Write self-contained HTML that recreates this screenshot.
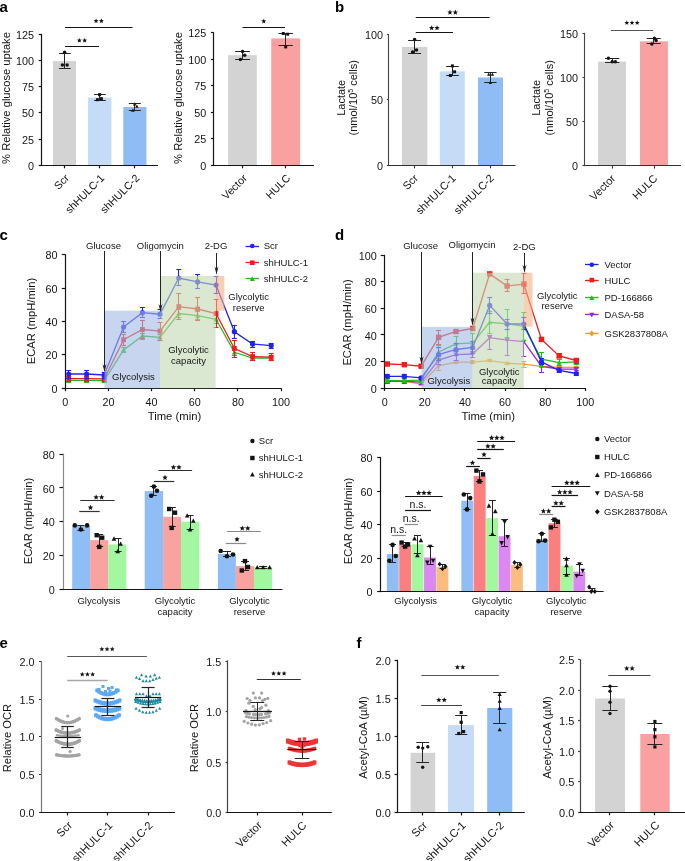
<!DOCTYPE html>
<html><head><meta charset="utf-8"><style>
html,body{margin:0;padding:0;background:#fff;}
svg{display:block;will-change:transform;}
text{font-family:"Liberation Sans", sans-serif;}
</style></head><body>
<svg width="685" height="861" viewBox="0 0 685 861">
<rect width="685" height="861" fill="#fff"/>
<text x="-0.5" y="11.5" font-size="15" text-anchor="start" font-weight="bold" fill="#000">a</text>
<text x="335" y="11.5" font-size="15" text-anchor="start" font-weight="bold" fill="#000">b</text>
<text x="-0.5" y="239.7" font-size="15" text-anchor="start" font-weight="bold" fill="#000">c</text>
<text x="335" y="239.7" font-size="15" text-anchor="start" font-weight="bold" fill="#000">d</text>
<text x="-0.5" y="647.6" font-size="15" text-anchor="start" font-weight="bold" fill="#000">e</text>
<text x="356.5" y="647.6" font-size="15" text-anchor="start" font-weight="bold" fill="#000">f</text>
<rect x="53" y="61.1" width="23" height="104.2" fill="#d3d3d3"/>
<rect x="88" y="97.6" width="23.4" height="67.7" fill="#c6dcf6"/>
<rect x="123.3" y="107" width="23.1" height="58.3" fill="#8fbcf5"/>
<line x1="41.5" y1="33.8" x2="41.5" y2="165.9" stroke="#141414" stroke-width="1.2"/>
<line x1="38.7" y1="165.5" x2="41.2" y2="165.5" stroke="#141414" stroke-width="1.2"/>
<text x="34.1" y="169.84" font-size="10.8" text-anchor="end" fill="#141414">0</text>
<line x1="38.7" y1="139.5" x2="41.2" y2="139.5" stroke="#141414" stroke-width="1.2"/>
<text x="34.1" y="143.66" font-size="10.8" text-anchor="end" fill="#141414">25</text>
<line x1="38.7" y1="112.5" x2="41.2" y2="112.5" stroke="#141414" stroke-width="1.2"/>
<text x="34.1" y="117.48" font-size="10.8" text-anchor="end" fill="#141414">50</text>
<line x1="38.7" y1="86.5" x2="41.2" y2="86.5" stroke="#141414" stroke-width="1.2"/>
<text x="34.1" y="91.3" font-size="10.8" text-anchor="end" fill="#141414">75</text>
<line x1="38.7" y1="60.5" x2="41.2" y2="60.5" stroke="#141414" stroke-width="1.2"/>
<text x="34.1" y="65.12" font-size="10.8" text-anchor="end" fill="#141414">100</text>
<line x1="38.7" y1="34.5" x2="41.2" y2="34.5" stroke="#141414" stroke-width="1.2"/>
<text x="34.1" y="38.94" font-size="10.8" text-anchor="end" fill="#141414">125</text>
<line x1="40.6" y1="165.5" x2="158" y2="165.5" stroke="#141414" stroke-width="1.2"/>
<line x1="64.5" y1="165.3" x2="64.5" y2="168.3" stroke="#141414" stroke-width="1.2"/>
<line x1="99.5" y1="165.3" x2="99.5" y2="168.3" stroke="#141414" stroke-width="1.2"/>
<line x1="134.5" y1="165.3" x2="134.5" y2="168.3" stroke="#141414" stroke-width="1.2"/>
<line x1="64.5" y1="53.5" x2="64.5" y2="68.4" stroke="#262626" stroke-width="1"/>
<line x1="58.95" y1="53.5" x2="70.65" y2="53.5" stroke="#262626" stroke-width="1"/>
<line x1="58.95" y1="68.5" x2="70.65" y2="68.5" stroke="#262626" stroke-width="1"/>
<circle cx="64.6" cy="52.3" r="1.75" fill="#141414"/>
<circle cx="62.4" cy="65" r="1.75" fill="#141414"/>
<circle cx="67.1" cy="65" r="1.75" fill="#141414"/>
<line x1="99.5" y1="94.6" x2="99.5" y2="100.5" stroke="#262626" stroke-width="1"/>
<line x1="94.05" y1="94.5" x2="105.75" y2="94.5" stroke="#262626" stroke-width="1"/>
<line x1="94.05" y1="100.5" x2="105.75" y2="100.5" stroke="#262626" stroke-width="1"/>
<rect x="98.1" y="93.1" width="3" height="3" fill="#141414"/>
<rect x="95.9" y="98.2" width="3" height="3" fill="#141414"/>
<rect x="99.9" y="97.2" width="3" height="3" fill="#141414"/>
<line x1="134.5" y1="103.4" x2="134.5" y2="110.3" stroke="#262626" stroke-width="1"/>
<line x1="128.8" y1="103.5" x2="140.8" y2="103.5" stroke="#262626" stroke-width="1"/>
<line x1="128.8" y1="110.5" x2="140.8" y2="110.5" stroke="#262626" stroke-width="1"/>
<path d="M134.7 102.26L136.46 105.57L132.94 105.57Z" fill="#141414"/>
<path d="M136.9 104.46L138.66 107.77L135.14 107.77Z" fill="#141414"/>
<path d="M132.9 108.56L134.66 111.87L131.14 111.87Z" fill="#141414"/>
<line x1="65" y1="46.5" x2="99" y2="46.5" stroke="#141414" stroke-width="1.2"/>
<polygon points="79.35,37.9 80.02,39.57 81.82,39.7 80.44,40.85 80.88,42.6 79.35,41.64 77.82,42.6 78.26,40.85 76.88,39.7 78.68,39.57" fill="#141414"/>
<polygon points="84.65,37.9 85.32,39.57 87.12,39.7 85.74,40.85 86.18,42.6 84.65,41.64 83.12,42.6 83.56,40.85 82.18,39.7 83.98,39.57" fill="#141414"/>
<line x1="65" y1="27.5" x2="132.5" y2="27.5" stroke="#141414" stroke-width="1.2"/>
<polygon points="96.1,18.4 96.77,20.07 98.57,20.2 97.19,21.35 97.63,23.1 96.1,22.14 94.57,23.1 95.01,21.35 93.63,20.2 95.43,20.07" fill="#141414"/>
<polygon points="101.4,18.4 102.07,20.07 103.87,20.2 102.49,21.35 102.93,23.1 101.4,22.14 99.87,23.1 100.31,21.35 98.93,20.2 100.73,20.07" fill="#141414"/>
<text x="69.9" y="178.8" font-size="10.7" text-anchor="end" fill="#141414" transform="rotate(-45 69.9 178.8)">Scr</text>
<text x="105" y="178.8" font-size="10.7" text-anchor="end" fill="#141414" transform="rotate(-45 105 178.8)">shHULC-1</text>
<text x="140.1" y="178.8" font-size="10.7" text-anchor="end" fill="#141414" transform="rotate(-45 140.1 178.8)">shHULC-2</text>
<text x="10" y="98" font-size="11.2" text-anchor="middle" fill="#141414" transform="rotate(-90 10 98)">% Relative glucose uptake</text>
<rect x="228.1" y="55.2" width="28.7" height="110.1" fill="#d3d3d3"/>
<rect x="271.2" y="38.4" width="28.9" height="126.9" fill="#f9a0a0"/>
<line x1="213.5" y1="32.2" x2="213.5" y2="165.9" stroke="#141414" stroke-width="1.2"/>
<line x1="210.9" y1="165.5" x2="213.4" y2="165.5" stroke="#141414" stroke-width="1.2"/>
<text x="206.3" y="169.84" font-size="10.8" text-anchor="end" fill="#141414">0</text>
<line x1="210.9" y1="138.5" x2="213.4" y2="138.5" stroke="#141414" stroke-width="1.2"/>
<text x="206.3" y="143.34" font-size="10.8" text-anchor="end" fill="#141414">25</text>
<line x1="210.9" y1="112.5" x2="213.4" y2="112.5" stroke="#141414" stroke-width="1.2"/>
<text x="206.3" y="116.84" font-size="10.8" text-anchor="end" fill="#141414">50</text>
<line x1="210.9" y1="85.5" x2="213.4" y2="85.5" stroke="#141414" stroke-width="1.2"/>
<text x="206.3" y="90.34" font-size="10.8" text-anchor="end" fill="#141414">75</text>
<line x1="210.9" y1="59.5" x2="213.4" y2="59.5" stroke="#141414" stroke-width="1.2"/>
<text x="206.3" y="63.84" font-size="10.8" text-anchor="end" fill="#141414">100</text>
<line x1="210.9" y1="32.5" x2="213.4" y2="32.5" stroke="#141414" stroke-width="1.2"/>
<text x="206.3" y="37.34" font-size="10.8" text-anchor="end" fill="#141414">125</text>
<line x1="212.8" y1="165.5" x2="314" y2="165.5" stroke="#141414" stroke-width="1.2"/>
<line x1="242.5" y1="165.3" x2="242.5" y2="168.3" stroke="#141414" stroke-width="1.2"/>
<line x1="285.5" y1="165.3" x2="285.5" y2="168.3" stroke="#141414" stroke-width="1.2"/>
<line x1="242.5" y1="51.5" x2="242.5" y2="59.4" stroke="#262626" stroke-width="1"/>
<line x1="235.15" y1="51.5" x2="250.05" y2="51.5" stroke="#262626" stroke-width="1"/>
<line x1="235.15" y1="59.5" x2="250.05" y2="59.5" stroke="#262626" stroke-width="1"/>
<circle cx="242.6" cy="51.5" r="1.75" fill="#141414"/>
<circle cx="244.7" cy="55.2" r="1.75" fill="#141414"/>
<circle cx="240.4" cy="59.4" r="1.75" fill="#141414"/>
<line x1="285.5" y1="33.4" x2="285.5" y2="45.2" stroke="#262626" stroke-width="1"/>
<line x1="278.5" y1="33.5" x2="292.9" y2="33.5" stroke="#262626" stroke-width="1"/>
<line x1="278.5" y1="45.5" x2="292.9" y2="45.5" stroke="#262626" stroke-width="1"/>
<rect x="281.8" y="32" width="3" height="3" fill="#141414"/>
<rect x="286.2" y="32.7" width="3" height="3" fill="#141414"/>
<rect x="284.2" y="45.4" width="3" height="3" fill="#141414"/>
<line x1="242.5" y1="27.5" x2="285" y2="27.5" stroke="#141414" stroke-width="1.2"/>
<polygon points="263.75,18.7 264.42,20.37 266.22,20.5 264.84,21.65 265.28,23.4 263.75,22.44 262.22,23.4 262.66,21.65 261.28,20.5 263.08,20.37" fill="#141414"/>
<text x="247.7" y="178.8" font-size="10.7" text-anchor="end" fill="#141414" transform="rotate(-45 247.7 178.8)">Vector</text>
<text x="290.9" y="178.8" font-size="10.7" text-anchor="end" fill="#141414" transform="rotate(-45 290.9 178.8)">HULC</text>
<text x="182" y="98" font-size="11.2" text-anchor="middle" fill="#141414" transform="rotate(-90 182 98)">% Relative glucose uptake</text>
<rect x="402" y="46.9" width="25.3" height="118.4" fill="#d3d3d3"/>
<rect x="439.8" y="71.3" width="25" height="94" fill="#c6dcf6"/>
<rect x="478" y="77.5" width="25" height="87.8" fill="#8fbcf5"/>
<line x1="388.5" y1="34.05" x2="388.5" y2="165.85" stroke="#444" stroke-width="1.1"/>
<line x1="386.9" y1="165.5" x2="388.9" y2="165.5" stroke="#444" stroke-width="1.1"/>
<text x="382.9" y="169.84" font-size="10.8" text-anchor="end" fill="#141414">0</text>
<line x1="386.9" y1="99.5" x2="388.9" y2="99.5" stroke="#444" stroke-width="1.1"/>
<text x="382.9" y="104.49" font-size="10.8" text-anchor="end" fill="#141414">50</text>
<line x1="386.9" y1="34.5" x2="388.9" y2="34.5" stroke="#444" stroke-width="1.1"/>
<text x="382.9" y="39.14" font-size="10.8" text-anchor="end" fill="#141414">100</text>
<line x1="388.35" y1="165.5" x2="515.5" y2="165.5" stroke="#333" stroke-width="1.1"/>
<line x1="414.5" y1="165.3" x2="414.5" y2="168.3" stroke="#333" stroke-width="1.1"/>
<line x1="452.5" y1="165.3" x2="452.5" y2="168.3" stroke="#333" stroke-width="1.1"/>
<line x1="490.5" y1="165.3" x2="490.5" y2="168.3" stroke="#333" stroke-width="1.1"/>
<line x1="414.5" y1="40.6" x2="414.5" y2="53.6" stroke="#262626" stroke-width="1"/>
<line x1="408.15" y1="40.5" x2="421.05" y2="40.5" stroke="#262626" stroke-width="1"/>
<line x1="408.15" y1="53.5" x2="421.05" y2="53.5" stroke="#262626" stroke-width="1"/>
<circle cx="414.6" cy="39.4" r="1.75" fill="#141414"/>
<circle cx="416.5" cy="50" r="1.75" fill="#141414"/>
<circle cx="412.6" cy="52" r="1.75" fill="#141414"/>
<line x1="452.5" y1="66.2" x2="452.5" y2="75.5" stroke="#262626" stroke-width="1"/>
<line x1="446.2" y1="66.5" x2="458.8" y2="66.5" stroke="#262626" stroke-width="1"/>
<line x1="446.2" y1="75.5" x2="458.8" y2="75.5" stroke="#262626" stroke-width="1"/>
<rect x="450.9" y="64.4" width="3" height="3" fill="#141414"/>
<rect x="453.1" y="70.3" width="3" height="3" fill="#141414"/>
<rect x="448.9" y="74" width="3" height="3" fill="#141414"/>
<line x1="490.5" y1="72.6" x2="490.5" y2="82.2" stroke="#262626" stroke-width="1"/>
<line x1="484.25" y1="72.5" x2="496.55" y2="72.5" stroke="#262626" stroke-width="1"/>
<line x1="484.25" y1="82.5" x2="496.55" y2="82.5" stroke="#262626" stroke-width="1"/>
<path d="M488.7 72.58L490.35 75.68L487.05 75.68Z" fill="#141414"/>
<path d="M492.4 72.58L494.05 75.68L490.75 75.68Z" fill="#141414"/>
<path d="M490.4 80.78L492.05 83.88L488.75 83.88Z" fill="#141414"/>
<line x1="415.7" y1="32.5" x2="453" y2="32.5" stroke="#141414" stroke-width="1.2"/>
<polygon points="431.65,25.2 432.37,27 434.31,27.13 432.82,28.38 433.3,30.27 431.65,29.23 430,30.27 430.48,28.38 428.99,27.13 430.93,27" fill="#141414"/>
<polygon points="437.05,25.2 437.77,27 439.71,27.13 438.22,28.38 438.7,30.27 437.05,29.23 435.4,30.27 435.88,28.38 434.39,27.13 436.33,27" fill="#141414"/>
<line x1="415.7" y1="17.5" x2="489.6" y2="17.5" stroke="#141414" stroke-width="1.2"/>
<polygon points="449.95,9.6 450.67,11.4 452.61,11.53 451.12,12.78 451.6,14.67 449.95,13.63 448.3,14.67 448.78,12.78 447.29,11.53 449.23,11.4" fill="#141414"/>
<polygon points="455.35,9.6 456.07,11.4 458.01,11.53 456.52,12.78 457,14.67 455.35,13.63 453.7,14.67 454.18,12.78 452.69,11.53 454.63,11.4" fill="#141414"/>
<text x="418.8" y="178.8" font-size="11" text-anchor="end" fill="#141414" transform="rotate(-45 418.8 178.8)">Scr</text>
<text x="456.5" y="178.8" font-size="11" text-anchor="end" fill="#141414" transform="rotate(-45 456.5 178.8)">shHULC-1</text>
<text x="494.7" y="178.8" font-size="11" text-anchor="end" fill="#141414" transform="rotate(-45 494.7 178.8)">shHULC-2</text>
<text x="345.3" y="97.8" font-size="11" text-anchor="middle" fill="#141414" transform="rotate(-90 345.3 97.8)">Lactate</text>
<text x="357.5" y="97.8" font-size="11" text-anchor="middle" fill="#141414" transform="rotate(-90 357.5 97.8)">(nmol/10<tspan font-size="7" dy="-4">5</tspan><tspan dy="4"> cells)</tspan></text>
<rect x="598.1" y="61.6" width="27.9" height="104" fill="#d3d3d3"/>
<rect x="640" y="41.33" width="27.9" height="124.27" fill="#f9a0a0"/>
<line x1="584.5" y1="32.85" x2="584.5" y2="166.15" stroke="#444" stroke-width="1.1"/>
<line x1="582.4" y1="165.5" x2="584.4" y2="165.5" stroke="#444" stroke-width="1.1"/>
<text x="577.9" y="170.14" font-size="10.8" text-anchor="end" fill="#141414">0</text>
<line x1="582.4" y1="121.5" x2="584.4" y2="121.5" stroke="#444" stroke-width="1.1"/>
<text x="577.9" y="126.07" font-size="10.8" text-anchor="end" fill="#141414">50</text>
<line x1="582.4" y1="77.5" x2="584.4" y2="77.5" stroke="#444" stroke-width="1.1"/>
<text x="577.9" y="82" font-size="10.8" text-anchor="end" fill="#141414">100</text>
<line x1="582.4" y1="33.5" x2="584.4" y2="33.5" stroke="#444" stroke-width="1.1"/>
<text x="577.9" y="37.94" font-size="10.8" text-anchor="end" fill="#141414">150</text>
<line x1="583.85" y1="165.5" x2="681" y2="165.5" stroke="#333" stroke-width="1.1"/>
<line x1="612.5" y1="165.6" x2="612.5" y2="168.6" stroke="#333" stroke-width="1.1"/>
<line x1="654.5" y1="165.6" x2="654.5" y2="168.6" stroke="#333" stroke-width="1.1"/>
<line x1="612.5" y1="58.8" x2="612.5" y2="62.6" stroke="#262626" stroke-width="1"/>
<line x1="605" y1="58.5" x2="619.4" y2="58.5" stroke="#262626" stroke-width="1"/>
<line x1="605" y1="62.5" x2="619.4" y2="62.5" stroke="#262626" stroke-width="1"/>
<circle cx="608.4" cy="58.3" r="1.75" fill="#141414"/>
<circle cx="612.2" cy="61.8" r="1.75" fill="#141414"/>
<circle cx="615.3" cy="61.8" r="1.75" fill="#141414"/>
<line x1="653.5" y1="38.8" x2="653.5" y2="43.4" stroke="#262626" stroke-width="1"/>
<line x1="646.7" y1="38.5" x2="660.7" y2="38.5" stroke="#262626" stroke-width="1"/>
<line x1="646.7" y1="43.5" x2="660.7" y2="43.5" stroke="#262626" stroke-width="1"/>
<circle cx="654.4" cy="38.3" r="1.75" fill="#141414"/>
<circle cx="656.1" cy="40.4" r="1.75" fill="#141414"/>
<circle cx="651.8" cy="43.9" r="1.75" fill="#141414"/>
<line x1="611" y1="30.5" x2="653" y2="30.5" stroke="#555" stroke-width="1.2"/>
<polygon points="626.8,20.3 627.45,21.91 629.18,22.03 627.85,23.14 628.27,24.82 626.8,23.9 625.33,24.82 625.75,23.14 624.42,22.03 626.15,21.91" fill="#141414"/>
<polygon points="632,20.3 632.65,21.91 634.38,22.03 633.05,23.14 633.47,24.82 632,23.9 630.53,24.82 630.95,23.14 629.62,22.03 631.35,21.91" fill="#141414"/>
<polygon points="637.2,20.3 637.85,21.91 639.58,22.03 638.25,23.14 638.67,24.82 637.2,23.9 635.73,24.82 636.15,23.14 634.82,22.03 636.55,21.91" fill="#141414"/>
<text x="616.2" y="179.1" font-size="11" text-anchor="end" fill="#141414" transform="rotate(-45 616.2 179.1)">Vector</text>
<text x="658.2" y="179.1" font-size="11" text-anchor="end" fill="#141414" transform="rotate(-45 658.2 179.1)">HULC</text>
<text x="540.5" y="97.8" font-size="11" text-anchor="middle" fill="#141414" transform="rotate(-90 540.5 97.8)">Lactate</text>
<text x="552.7" y="97.8" font-size="11" text-anchor="middle" fill="#141414" transform="rotate(-90 552.7 97.8)">(nmol/10<tspan font-size="7" dy="-4">5</tspan><tspan dy="4"> cells)</tspan></text>
<line x1="65.5" y1="254.2" x2="65.5" y2="388.8" stroke="#141414" stroke-width="1.2"/>
<line x1="61.8" y1="388.5" x2="65.3" y2="388.5" stroke="#141414" stroke-width="1.2"/>
<text x="57.4" y="392.74" font-size="10.8" text-anchor="end" fill="#141414">0</text>
<line x1="61.8" y1="354.5" x2="65.3" y2="354.5" stroke="#141414" stroke-width="1.2"/>
<text x="57.4" y="359.39" font-size="10.8" text-anchor="end" fill="#141414">20</text>
<line x1="61.8" y1="321.5" x2="65.3" y2="321.5" stroke="#141414" stroke-width="1.2"/>
<text x="57.4" y="326.04" font-size="10.8" text-anchor="end" fill="#141414">40</text>
<line x1="61.8" y1="288.5" x2="65.3" y2="288.5" stroke="#141414" stroke-width="1.2"/>
<text x="57.4" y="292.69" font-size="10.8" text-anchor="end" fill="#141414">60</text>
<line x1="61.8" y1="254.5" x2="65.3" y2="254.5" stroke="#141414" stroke-width="1.2"/>
<text x="57.4" y="259.34" font-size="10.8" text-anchor="end" fill="#141414">80</text>
<line x1="64.7" y1="388.5" x2="281.1" y2="388.5" stroke="#141414" stroke-width="1.2"/>
<line x1="65.5" y1="388.2" x2="65.5" y2="391.2" stroke="#141414" stroke-width="1.2"/>
<line x1="108.5" y1="388.2" x2="108.5" y2="391.2" stroke="#141414" stroke-width="1.2"/>
<line x1="151.5" y1="388.2" x2="151.5" y2="391.2" stroke="#141414" stroke-width="1.2"/>
<line x1="194.5" y1="388.2" x2="194.5" y2="391.2" stroke="#141414" stroke-width="1.2"/>
<line x1="237.5" y1="388.2" x2="237.5" y2="391.2" stroke="#141414" stroke-width="1.2"/>
<line x1="281.5" y1="388.2" x2="281.5" y2="391.2" stroke="#141414" stroke-width="1.2"/>
<text x="65.3" y="405.7" font-size="10.8" text-anchor="middle" fill="#141414">0</text>
<text x="108.46" y="405.7" font-size="10.8" text-anchor="middle" fill="#141414">20</text>
<text x="151.62" y="405.7" font-size="10.8" text-anchor="middle" fill="#141414">40</text>
<text x="194.78" y="405.7" font-size="10.8" text-anchor="middle" fill="#141414">60</text>
<text x="237.94" y="405.7" font-size="10.8" text-anchor="middle" fill="#141414">80</text>
<text x="281.1" y="405.7" font-size="10.8" text-anchor="middle" fill="#141414">100</text>
<text x="174.5" y="420.4" font-size="11.3" text-anchor="middle" fill="#141414">Time (min)</text>
<text x="35" y="321" font-size="11.2" text-anchor="middle" fill="#141414" transform="rotate(-90 35 321)">ECAR (mpH/min)</text>
<polyline points="68.7,380.3 86.6,380.3 104.2,380.5 123.6,349.9 142.4,336 160,337.3 178.8,313.5 197.6,315.6 216,319.3 234.4,352.3 252.6,358 271.2,358" fill="none" stroke="#22bb22" stroke-width="1.3"/>
<line x1="68.5" y1="378.3" x2="68.5" y2="382.3" stroke="#22bb22" stroke-width="1.1"/>
<line x1="66.2" y1="378.5" x2="71.2" y2="378.5" stroke="#22bb22" stroke-width="1.1"/>
<line x1="66.2" y1="382.5" x2="71.2" y2="382.5" stroke="#22bb22" stroke-width="1.1"/>
<path d="M68.7 377.66L71.23 382.42L66.17 382.42Z" fill="#22bb22"/>
<line x1="86.5" y1="378.3" x2="86.5" y2="382.3" stroke="#22bb22" stroke-width="1.1"/>
<line x1="84.1" y1="378.5" x2="89.1" y2="378.5" stroke="#22bb22" stroke-width="1.1"/>
<line x1="84.1" y1="382.5" x2="89.1" y2="382.5" stroke="#22bb22" stroke-width="1.1"/>
<path d="M86.6 377.66L89.13 382.42L84.07 382.42Z" fill="#22bb22"/>
<line x1="104.5" y1="378.5" x2="104.5" y2="382.5" stroke="#22bb22" stroke-width="1.1"/>
<line x1="101.7" y1="378.5" x2="106.7" y2="378.5" stroke="#22bb22" stroke-width="1.1"/>
<line x1="101.7" y1="382.5" x2="106.7" y2="382.5" stroke="#22bb22" stroke-width="1.1"/>
<path d="M104.2 377.86L106.73 382.62L101.67 382.62Z" fill="#22bb22"/>
<line x1="123.5" y1="347.4" x2="123.5" y2="352.4" stroke="#22bb22" stroke-width="1.1"/>
<line x1="121.1" y1="347.5" x2="126.1" y2="347.5" stroke="#22bb22" stroke-width="1.1"/>
<line x1="121.1" y1="352.5" x2="126.1" y2="352.5" stroke="#22bb22" stroke-width="1.1"/>
<path d="M123.6 347.25L126.13 352.02L121.07 352.02Z" fill="#22bb22"/>
<line x1="142.5" y1="333" x2="142.5" y2="339" stroke="#22bb22" stroke-width="1.1"/>
<line x1="139.9" y1="333.5" x2="144.9" y2="333.5" stroke="#22bb22" stroke-width="1.1"/>
<line x1="139.9" y1="339.5" x2="144.9" y2="339.5" stroke="#22bb22" stroke-width="1.1"/>
<path d="M142.4 333.36L144.93 338.12L139.87 338.12Z" fill="#22bb22"/>
<line x1="160.5" y1="334.3" x2="160.5" y2="340.3" stroke="#22bb22" stroke-width="1.1"/>
<line x1="157.5" y1="334.5" x2="162.5" y2="334.5" stroke="#22bb22" stroke-width="1.1"/>
<line x1="157.5" y1="340.5" x2="162.5" y2="340.5" stroke="#22bb22" stroke-width="1.1"/>
<path d="M160 334.66L162.53 339.42L157.47 339.42Z" fill="#22bb22"/>
<line x1="178.5" y1="309.5" x2="178.5" y2="317.5" stroke="#22bb22" stroke-width="1.1"/>
<line x1="176.3" y1="309.5" x2="181.3" y2="309.5" stroke="#22bb22" stroke-width="1.1"/>
<line x1="176.3" y1="317.5" x2="181.3" y2="317.5" stroke="#22bb22" stroke-width="1.1"/>
<path d="M178.8 310.86L181.33 315.62L176.27 315.62Z" fill="#22bb22"/>
<line x1="197.5" y1="311.6" x2="197.5" y2="319.6" stroke="#22bb22" stroke-width="1.1"/>
<line x1="195.1" y1="311.5" x2="200.1" y2="311.5" stroke="#22bb22" stroke-width="1.1"/>
<line x1="195.1" y1="319.5" x2="200.1" y2="319.5" stroke="#22bb22" stroke-width="1.1"/>
<path d="M197.6 312.96L200.13 317.72L195.07 317.72Z" fill="#22bb22"/>
<line x1="216.5" y1="315.3" x2="216.5" y2="323.3" stroke="#22bb22" stroke-width="1.1"/>
<line x1="213.5" y1="315.5" x2="218.5" y2="315.5" stroke="#22bb22" stroke-width="1.1"/>
<line x1="213.5" y1="323.5" x2="218.5" y2="323.5" stroke="#22bb22" stroke-width="1.1"/>
<path d="M216 316.66L218.53 321.42L213.47 321.42Z" fill="#22bb22"/>
<line x1="234.5" y1="349.3" x2="234.5" y2="355.3" stroke="#22bb22" stroke-width="1.1"/>
<line x1="231.9" y1="349.5" x2="236.9" y2="349.5" stroke="#22bb22" stroke-width="1.1"/>
<line x1="231.9" y1="355.5" x2="236.9" y2="355.5" stroke="#22bb22" stroke-width="1.1"/>
<path d="M234.4 349.66L236.93 354.42L231.87 354.42Z" fill="#22bb22"/>
<line x1="252.5" y1="356" x2="252.5" y2="360" stroke="#22bb22" stroke-width="1.1"/>
<line x1="250.1" y1="356.5" x2="255.1" y2="356.5" stroke="#22bb22" stroke-width="1.1"/>
<line x1="250.1" y1="360.5" x2="255.1" y2="360.5" stroke="#22bb22" stroke-width="1.1"/>
<path d="M252.6 355.36L255.13 360.12L250.07 360.12Z" fill="#22bb22"/>
<line x1="271.5" y1="356" x2="271.5" y2="360" stroke="#22bb22" stroke-width="1.1"/>
<line x1="268.7" y1="356.5" x2="273.7" y2="356.5" stroke="#22bb22" stroke-width="1.1"/>
<line x1="268.7" y1="360.5" x2="273.7" y2="360.5" stroke="#22bb22" stroke-width="1.1"/>
<path d="M271.2 355.36L273.73 360.12L268.67 360.12Z" fill="#22bb22"/>
<polyline points="68.7,378.6 86.6,378.6 104.2,378.8 123.6,339.7 142.4,329.5 160,331.1 178.8,306.6 197.6,309 216,313.5 234.4,348.5 252.6,356.5 271.2,357.2" fill="none" stroke="#ee1c1c" stroke-width="1.3"/>
<line x1="68.5" y1="376.1" x2="68.5" y2="381.1" stroke="#ee1c1c" stroke-width="1.1"/>
<line x1="66.2" y1="376.5" x2="71.2" y2="376.5" stroke="#ee1c1c" stroke-width="1.1"/>
<line x1="66.2" y1="381.5" x2="71.2" y2="381.5" stroke="#ee1c1c" stroke-width="1.1"/>
<rect x="66.3" y="376.2" width="4.8" height="4.8" fill="#ee1c1c"/>
<line x1="86.5" y1="376.1" x2="86.5" y2="381.1" stroke="#ee1c1c" stroke-width="1.1"/>
<line x1="84.1" y1="376.5" x2="89.1" y2="376.5" stroke="#ee1c1c" stroke-width="1.1"/>
<line x1="84.1" y1="381.5" x2="89.1" y2="381.5" stroke="#ee1c1c" stroke-width="1.1"/>
<rect x="84.2" y="376.2" width="4.8" height="4.8" fill="#ee1c1c"/>
<line x1="104.5" y1="376.3" x2="104.5" y2="381.3" stroke="#ee1c1c" stroke-width="1.1"/>
<line x1="101.7" y1="376.5" x2="106.7" y2="376.5" stroke="#ee1c1c" stroke-width="1.1"/>
<line x1="101.7" y1="381.5" x2="106.7" y2="381.5" stroke="#ee1c1c" stroke-width="1.1"/>
<rect x="101.8" y="376.4" width="4.8" height="4.8" fill="#ee1c1c"/>
<line x1="123.5" y1="334.6" x2="123.5" y2="345.4" stroke="#ee1c1c" stroke-width="1.1"/>
<line x1="121.1" y1="334.5" x2="126.1" y2="334.5" stroke="#ee1c1c" stroke-width="1.1"/>
<line x1="121.1" y1="345.5" x2="126.1" y2="345.5" stroke="#ee1c1c" stroke-width="1.1"/>
<rect x="121.2" y="337.3" width="4.8" height="4.8" fill="#ee1c1c"/>
<line x1="142.5" y1="320.3" x2="142.5" y2="338.7" stroke="#ee1c1c" stroke-width="1.1"/>
<line x1="139.9" y1="320.5" x2="144.9" y2="320.5" stroke="#ee1c1c" stroke-width="1.1"/>
<line x1="139.9" y1="338.5" x2="144.9" y2="338.5" stroke="#ee1c1c" stroke-width="1.1"/>
<rect x="140" y="327.1" width="4.8" height="4.8" fill="#ee1c1c"/>
<line x1="160.5" y1="322.3" x2="160.5" y2="340.3" stroke="#ee1c1c" stroke-width="1.1"/>
<line x1="157.5" y1="322.5" x2="162.5" y2="322.5" stroke="#ee1c1c" stroke-width="1.1"/>
<line x1="157.5" y1="340.5" x2="162.5" y2="340.5" stroke="#ee1c1c" stroke-width="1.1"/>
<rect x="157.6" y="328.7" width="4.8" height="4.8" fill="#ee1c1c"/>
<line x1="178.5" y1="293.3" x2="178.5" y2="319.3" stroke="#ee1c1c" stroke-width="1.1"/>
<line x1="176.3" y1="293.5" x2="181.3" y2="293.5" stroke="#ee1c1c" stroke-width="1.1"/>
<line x1="176.3" y1="319.5" x2="181.3" y2="319.5" stroke="#ee1c1c" stroke-width="1.1"/>
<rect x="176.4" y="304.2" width="4.8" height="4.8" fill="#ee1c1c"/>
<line x1="197.5" y1="297.4" x2="197.5" y2="320.9" stroke="#ee1c1c" stroke-width="1.1"/>
<line x1="195.1" y1="297.5" x2="200.1" y2="297.5" stroke="#ee1c1c" stroke-width="1.1"/>
<line x1="195.1" y1="320.5" x2="200.1" y2="320.5" stroke="#ee1c1c" stroke-width="1.1"/>
<rect x="195.2" y="306.6" width="4.8" height="4.8" fill="#ee1c1c"/>
<line x1="216.5" y1="299.4" x2="216.5" y2="327" stroke="#ee1c1c" stroke-width="1.1"/>
<line x1="213.5" y1="299.5" x2="218.5" y2="299.5" stroke="#ee1c1c" stroke-width="1.1"/>
<line x1="213.5" y1="327.5" x2="218.5" y2="327.5" stroke="#ee1c1c" stroke-width="1.1"/>
<rect x="213.6" y="311.1" width="4.8" height="4.8" fill="#ee1c1c"/>
<line x1="234.5" y1="340" x2="234.5" y2="357" stroke="#ee1c1c" stroke-width="1.1"/>
<line x1="231.9" y1="340.5" x2="236.9" y2="340.5" stroke="#ee1c1c" stroke-width="1.1"/>
<line x1="231.9" y1="357.5" x2="236.9" y2="357.5" stroke="#ee1c1c" stroke-width="1.1"/>
<rect x="232" y="346.1" width="4.8" height="4.8" fill="#ee1c1c"/>
<line x1="252.5" y1="352.5" x2="252.5" y2="360.5" stroke="#ee1c1c" stroke-width="1.1"/>
<line x1="250.1" y1="352.5" x2="255.1" y2="352.5" stroke="#ee1c1c" stroke-width="1.1"/>
<line x1="250.1" y1="360.5" x2="255.1" y2="360.5" stroke="#ee1c1c" stroke-width="1.1"/>
<rect x="250.2" y="354.1" width="4.8" height="4.8" fill="#ee1c1c"/>
<line x1="271.5" y1="353.7" x2="271.5" y2="360.7" stroke="#ee1c1c" stroke-width="1.1"/>
<line x1="268.7" y1="353.5" x2="273.7" y2="353.5" stroke="#ee1c1c" stroke-width="1.1"/>
<line x1="268.7" y1="360.5" x2="273.7" y2="360.5" stroke="#ee1c1c" stroke-width="1.1"/>
<rect x="268.8" y="354.8" width="4.8" height="4.8" fill="#ee1c1c"/>
<polyline points="68.7,374 86.6,374 104.2,375 123.6,327 142.4,312.7 160,314.2 178.8,278 197.6,281.9 216,285.1 234.4,331.7 252.6,344 271.2,345.6" fill="none" stroke="#2222ee" stroke-width="1.3"/>
<line x1="68.5" y1="370" x2="68.5" y2="378" stroke="#2222ee" stroke-width="1.1"/>
<line x1="66.2" y1="370.5" x2="71.2" y2="370.5" stroke="#2222ee" stroke-width="1.1"/>
<line x1="66.2" y1="378.5" x2="71.2" y2="378.5" stroke="#2222ee" stroke-width="1.1"/>
<circle cx="68.7" cy="374" r="2.6" fill="#2222ee"/>
<line x1="86.5" y1="370" x2="86.5" y2="378" stroke="#2222ee" stroke-width="1.1"/>
<line x1="84.1" y1="370.5" x2="89.1" y2="370.5" stroke="#2222ee" stroke-width="1.1"/>
<line x1="84.1" y1="378.5" x2="89.1" y2="378.5" stroke="#2222ee" stroke-width="1.1"/>
<circle cx="86.6" cy="374" r="2.6" fill="#2222ee"/>
<line x1="104.5" y1="372" x2="104.5" y2="378" stroke="#2222ee" stroke-width="1.1"/>
<line x1="101.7" y1="372.5" x2="106.7" y2="372.5" stroke="#2222ee" stroke-width="1.1"/>
<line x1="101.7" y1="378.5" x2="106.7" y2="378.5" stroke="#2222ee" stroke-width="1.1"/>
<circle cx="104.2" cy="375" r="2.6" fill="#2222ee"/>
<line x1="123.5" y1="321.7" x2="123.5" y2="332" stroke="#2222ee" stroke-width="1.1"/>
<line x1="121.1" y1="321.5" x2="126.1" y2="321.5" stroke="#2222ee" stroke-width="1.1"/>
<line x1="121.1" y1="332.5" x2="126.1" y2="332.5" stroke="#2222ee" stroke-width="1.1"/>
<circle cx="123.6" cy="327" r="2.6" fill="#2222ee"/>
<line x1="142.5" y1="307.6" x2="142.5" y2="317.6" stroke="#2222ee" stroke-width="1.1"/>
<line x1="139.9" y1="307.5" x2="144.9" y2="307.5" stroke="#2222ee" stroke-width="1.1"/>
<line x1="139.9" y1="317.5" x2="144.9" y2="317.5" stroke="#2222ee" stroke-width="1.1"/>
<circle cx="142.4" cy="312.7" r="2.6" fill="#2222ee"/>
<line x1="160.5" y1="309.5" x2="160.5" y2="318.7" stroke="#2222ee" stroke-width="1.1"/>
<line x1="157.5" y1="309.5" x2="162.5" y2="309.5" stroke="#2222ee" stroke-width="1.1"/>
<line x1="157.5" y1="318.5" x2="162.5" y2="318.5" stroke="#2222ee" stroke-width="1.1"/>
<circle cx="160" cy="314.2" r="2.6" fill="#2222ee"/>
<line x1="178.5" y1="269.6" x2="178.5" y2="285.5" stroke="#2222ee" stroke-width="1.1"/>
<line x1="176.3" y1="269.5" x2="181.3" y2="269.5" stroke="#2222ee" stroke-width="1.1"/>
<line x1="176.3" y1="285.5" x2="181.3" y2="285.5" stroke="#2222ee" stroke-width="1.1"/>
<circle cx="178.8" cy="278" r="2.6" fill="#2222ee"/>
<line x1="197.5" y1="274.7" x2="197.5" y2="288.6" stroke="#2222ee" stroke-width="1.1"/>
<line x1="195.1" y1="274.5" x2="200.1" y2="274.5" stroke="#2222ee" stroke-width="1.1"/>
<line x1="195.1" y1="288.5" x2="200.1" y2="288.5" stroke="#2222ee" stroke-width="1.1"/>
<circle cx="197.6" cy="281.9" r="2.6" fill="#2222ee"/>
<line x1="216.5" y1="276.3" x2="216.5" y2="293.7" stroke="#2222ee" stroke-width="1.1"/>
<line x1="213.5" y1="276.5" x2="218.5" y2="276.5" stroke="#2222ee" stroke-width="1.1"/>
<line x1="213.5" y1="293.5" x2="218.5" y2="293.5" stroke="#2222ee" stroke-width="1.1"/>
<circle cx="216" cy="285.1" r="2.6" fill="#2222ee"/>
<line x1="234.5" y1="325" x2="234.5" y2="338" stroke="#2222ee" stroke-width="1.1"/>
<line x1="231.9" y1="325.5" x2="236.9" y2="325.5" stroke="#2222ee" stroke-width="1.1"/>
<line x1="231.9" y1="338.5" x2="236.9" y2="338.5" stroke="#2222ee" stroke-width="1.1"/>
<circle cx="234.4" cy="331.7" r="2.6" fill="#2222ee"/>
<line x1="252.5" y1="341" x2="252.5" y2="347" stroke="#2222ee" stroke-width="1.1"/>
<line x1="250.1" y1="341.5" x2="255.1" y2="341.5" stroke="#2222ee" stroke-width="1.1"/>
<line x1="250.1" y1="347.5" x2="255.1" y2="347.5" stroke="#2222ee" stroke-width="1.1"/>
<circle cx="252.6" cy="344" r="2.6" fill="#2222ee"/>
<line x1="271.5" y1="343.1" x2="271.5" y2="348.1" stroke="#2222ee" stroke-width="1.1"/>
<line x1="268.7" y1="343.5" x2="273.7" y2="343.5" stroke="#2222ee" stroke-width="1.1"/>
<line x1="268.7" y1="348.5" x2="273.7" y2="348.5" stroke="#2222ee" stroke-width="1.1"/>
<circle cx="271.2" cy="345.6" r="2.6" fill="#2222ee"/>
<rect x="104.5" y="310.7" width="55.5" height="77.5" fill="#a3b9e3" opacity="0.6"/>
<rect x="160" y="276" width="55.6" height="112.2" fill="#c1d9b4" opacity="0.6"/>
<rect x="215.6" y="276" width="8.8" height="34.7" fill="#eeb184" opacity="0.6"/>
<line x1="104.5" y1="251" x2="104.5" y2="371" stroke="#222" stroke-width="1"/>
<path d="M102.5 364L104.5 372L106.5 364L104.5 366.5Z" fill="#222"/>
<line x1="160.5" y1="251" x2="160.5" y2="311" stroke="#222" stroke-width="1"/>
<path d="M158.5 304L160.5 312L162.5 304L160.5 306.5Z" fill="#222"/>
<line x1="216.5" y1="253" x2="216.5" y2="273.5" stroke="#222" stroke-width="1"/>
<path d="M214.5 266.5L216.5 274.5L218.5 266.5L216.5 269Z" fill="#222"/>
<text x="103.5" y="249" font-size="9.5" text-anchor="middle" fill="#141414">Glucose</text>
<text x="160.3" y="249" font-size="9.5" text-anchor="middle" fill="#141414">Oligomycin</text>
<text x="216" y="249" font-size="9.5" text-anchor="middle" fill="#141414">2-DG</text>
<text x="133.4" y="380.3" font-size="9.5" text-anchor="middle" fill="#141414">Glycolysis</text>
<text x="188.5" y="353" font-size="9.5" text-anchor="middle" fill="#141414">Glycolytic</text>
<text x="188.5" y="363.8" font-size="9.5" text-anchor="middle" fill="#141414">capacity</text>
<text x="248.6" y="299.9" font-size="9.5" text-anchor="middle" fill="#141414">Glycolytic</text>
<text x="248.6" y="311.1" font-size="9.5" text-anchor="middle" fill="#141414">reserve</text>
<line x1="245.6" y1="246.5" x2="259" y2="246.5" stroke="#2222ee" stroke-width="1.3"/>
<circle cx="252.3" cy="246" r="2.3" fill="#2222ee"/>
<text x="263.7" y="249.4" font-size="9.5" text-anchor="start" fill="#141414">Scr</text>
<line x1="245.6" y1="262.5" x2="259" y2="262.5" stroke="#ee1c1c" stroke-width="1.3"/>
<rect x="250" y="260.4" width="4.6" height="4.6" fill="#ee1c1c"/>
<text x="263.7" y="266.1" font-size="9.5" text-anchor="start" fill="#141414">shHULC-1</text>
<line x1="245.6" y1="278.5" x2="259" y2="278.5" stroke="#22bb22" stroke-width="1.3"/>
<path d="M252.3 276.16L254.83 280.92L249.77 280.92Z" fill="#22bb22"/>
<text x="263.7" y="282.2" font-size="9.5" text-anchor="start" fill="#141414">shHULC-2</text>
<line x1="384.5" y1="254.8" x2="384.5" y2="388.6" stroke="#141414" stroke-width="1.2"/>
<line x1="380.7" y1="388.5" x2="384.2" y2="388.5" stroke="#141414" stroke-width="1.2"/>
<text x="376.8" y="392.54" font-size="10.8" text-anchor="end" fill="#141414">0</text>
<line x1="380.7" y1="361.5" x2="384.2" y2="361.5" stroke="#141414" stroke-width="1.2"/>
<text x="376.8" y="366.02" font-size="10.8" text-anchor="end" fill="#141414">20</text>
<line x1="380.7" y1="334.5" x2="384.2" y2="334.5" stroke="#141414" stroke-width="1.2"/>
<text x="376.8" y="339.5" font-size="10.8" text-anchor="end" fill="#141414">40</text>
<line x1="380.7" y1="308.5" x2="384.2" y2="308.5" stroke="#141414" stroke-width="1.2"/>
<text x="376.8" y="312.98" font-size="10.8" text-anchor="end" fill="#141414">60</text>
<line x1="380.7" y1="281.5" x2="384.2" y2="281.5" stroke="#141414" stroke-width="1.2"/>
<text x="376.8" y="286.46" font-size="10.8" text-anchor="end" fill="#141414">80</text>
<line x1="380.7" y1="255.5" x2="384.2" y2="255.5" stroke="#141414" stroke-width="1.2"/>
<text x="376.8" y="259.94" font-size="10.8" text-anchor="end" fill="#141414">100</text>
<line x1="383.6" y1="388.5" x2="585.3" y2="388.5" stroke="#141414" stroke-width="1.2"/>
<line x1="384.5" y1="388" x2="384.5" y2="391" stroke="#141414" stroke-width="1.2"/>
<line x1="424.5" y1="388" x2="424.5" y2="391" stroke="#141414" stroke-width="1.2"/>
<line x1="464.5" y1="388" x2="464.5" y2="391" stroke="#141414" stroke-width="1.2"/>
<line x1="505.5" y1="388" x2="505.5" y2="391" stroke="#141414" stroke-width="1.2"/>
<line x1="545.5" y1="388" x2="545.5" y2="391" stroke="#141414" stroke-width="1.2"/>
<line x1="585.5" y1="388" x2="585.5" y2="391" stroke="#141414" stroke-width="1.2"/>
<text x="384.7" y="405.6" font-size="10.8" text-anchor="middle" fill="#141414">0</text>
<text x="424.82" y="405.6" font-size="10.8" text-anchor="middle" fill="#141414">20</text>
<text x="464.94" y="405.6" font-size="10.8" text-anchor="middle" fill="#141414">40</text>
<text x="505.06" y="405.6" font-size="10.8" text-anchor="middle" fill="#141414">60</text>
<text x="545.18" y="405.6" font-size="10.8" text-anchor="middle" fill="#141414">80</text>
<text x="585.3" y="405.6" font-size="10.8" text-anchor="middle" fill="#141414">100</text>
<text x="488.2" y="420.4" font-size="11.3" text-anchor="middle" fill="#141414">Time (min)</text>
<text x="351" y="322.4" font-size="11.2" text-anchor="middle" fill="#141414" transform="rotate(-90 351 322.4)">ECAR (mpH/min)</text>
<polyline points="387.3,381 404.3,381 421.2,384 438.6,365.9 456,362.2 472.7,362.2 489.7,360.6 507.1,363.2 523.8,364.2 541.5,366.4 559.2,367.3 576.3,367.3" fill="none" stroke="#f39a2b" stroke-width="1.3"/>
<line x1="387.5" y1="380" x2="387.5" y2="382" stroke="#f39a2b" stroke-width="1.1"/>
<line x1="384.8" y1="380.5" x2="389.8" y2="380.5" stroke="#f39a2b" stroke-width="1.1"/>
<line x1="384.8" y1="382.5" x2="389.8" y2="382.5" stroke="#f39a2b" stroke-width="1.1"/>
<path d="M387.3 378.75L389.28 381L387.3 383.25L385.32 381Z" fill="#f39a2b"/>
<line x1="404.5" y1="380" x2="404.5" y2="382" stroke="#f39a2b" stroke-width="1.1"/>
<line x1="401.8" y1="380.5" x2="406.8" y2="380.5" stroke="#f39a2b" stroke-width="1.1"/>
<line x1="401.8" y1="382.5" x2="406.8" y2="382.5" stroke="#f39a2b" stroke-width="1.1"/>
<path d="M404.3 378.75L406.28 381L404.3 383.25L402.32 381Z" fill="#f39a2b"/>
<line x1="421.5" y1="383" x2="421.5" y2="385" stroke="#f39a2b" stroke-width="1.1"/>
<line x1="418.7" y1="383.5" x2="423.7" y2="383.5" stroke="#f39a2b" stroke-width="1.1"/>
<line x1="418.7" y1="385.5" x2="423.7" y2="385.5" stroke="#f39a2b" stroke-width="1.1"/>
<path d="M421.2 381.75L423.18 384L421.2 386.25L419.22 384Z" fill="#f39a2b"/>
<line x1="438.5" y1="361.8" x2="438.5" y2="370.4" stroke="#f39a2b" stroke-width="1.1"/>
<line x1="436.1" y1="361.5" x2="441.1" y2="361.5" stroke="#f39a2b" stroke-width="1.1"/>
<line x1="436.1" y1="370.5" x2="441.1" y2="370.5" stroke="#f39a2b" stroke-width="1.1"/>
<path d="M438.6 363.65L440.58 365.9L438.6 368.15L436.62 365.9Z" fill="#f39a2b"/>
<line x1="456.5" y1="360.7" x2="456.5" y2="363.7" stroke="#f39a2b" stroke-width="1.1"/>
<line x1="453.5" y1="360.5" x2="458.5" y2="360.5" stroke="#f39a2b" stroke-width="1.1"/>
<line x1="453.5" y1="363.5" x2="458.5" y2="363.5" stroke="#f39a2b" stroke-width="1.1"/>
<path d="M456 359.95L457.98 362.2L456 364.45L454.02 362.2Z" fill="#f39a2b"/>
<line x1="472.5" y1="360.7" x2="472.5" y2="363.7" stroke="#f39a2b" stroke-width="1.1"/>
<line x1="470.2" y1="360.5" x2="475.2" y2="360.5" stroke="#f39a2b" stroke-width="1.1"/>
<line x1="470.2" y1="363.5" x2="475.2" y2="363.5" stroke="#f39a2b" stroke-width="1.1"/>
<path d="M472.7 359.95L474.68 362.2L472.7 364.45L470.72 362.2Z" fill="#f39a2b"/>
<line x1="489.5" y1="359.6" x2="489.5" y2="361.6" stroke="#f39a2b" stroke-width="1.1"/>
<line x1="487.2" y1="359.5" x2="492.2" y2="359.5" stroke="#f39a2b" stroke-width="1.1"/>
<line x1="487.2" y1="361.5" x2="492.2" y2="361.5" stroke="#f39a2b" stroke-width="1.1"/>
<path d="M489.7 358.35L491.68 360.6L489.7 362.85L487.72 360.6Z" fill="#f39a2b"/>
<line x1="507.5" y1="362.2" x2="507.5" y2="364.2" stroke="#f39a2b" stroke-width="1.1"/>
<line x1="504.6" y1="362.5" x2="509.6" y2="362.5" stroke="#f39a2b" stroke-width="1.1"/>
<line x1="504.6" y1="364.5" x2="509.6" y2="364.5" stroke="#f39a2b" stroke-width="1.1"/>
<path d="M507.1 360.95L509.08 363.2L507.1 365.45L505.12 363.2Z" fill="#f39a2b"/>
<line x1="523.5" y1="361.2" x2="523.5" y2="367.9" stroke="#f39a2b" stroke-width="1.1"/>
<line x1="521.3" y1="361.5" x2="526.3" y2="361.5" stroke="#f39a2b" stroke-width="1.1"/>
<line x1="521.3" y1="367.5" x2="526.3" y2="367.5" stroke="#f39a2b" stroke-width="1.1"/>
<path d="M523.8 361.95L525.78 364.2L523.8 366.45L521.82 364.2Z" fill="#f39a2b"/>
<line x1="541.5" y1="364.9" x2="541.5" y2="367.9" stroke="#f39a2b" stroke-width="1.1"/>
<line x1="539" y1="364.5" x2="544" y2="364.5" stroke="#f39a2b" stroke-width="1.1"/>
<line x1="539" y1="367.5" x2="544" y2="367.5" stroke="#f39a2b" stroke-width="1.1"/>
<path d="M541.5 364.15L543.48 366.4L541.5 368.65L539.52 366.4Z" fill="#f39a2b"/>
<line x1="559.5" y1="366.3" x2="559.5" y2="368.3" stroke="#f39a2b" stroke-width="1.1"/>
<line x1="556.7" y1="366.5" x2="561.7" y2="366.5" stroke="#f39a2b" stroke-width="1.1"/>
<line x1="556.7" y1="368.5" x2="561.7" y2="368.5" stroke="#f39a2b" stroke-width="1.1"/>
<path d="M559.2 365.05L561.18 367.3L559.2 369.55L557.22 367.3Z" fill="#f39a2b"/>
<line x1="576.5" y1="366.3" x2="576.5" y2="368.3" stroke="#f39a2b" stroke-width="1.1"/>
<line x1="573.8" y1="366.5" x2="578.8" y2="366.5" stroke="#f39a2b" stroke-width="1.1"/>
<line x1="573.8" y1="368.5" x2="578.8" y2="368.5" stroke="#f39a2b" stroke-width="1.1"/>
<path d="M576.3 365.05L578.28 367.3L576.3 369.55L574.32 367.3Z" fill="#f39a2b"/>
<polyline points="387.3,381.4 404.3,381.4 421.2,382.2 438.6,360.1 456,354.6 472.7,354 489.7,337.7 507.1,340.1 523.8,341.7 541.5,366.3 559.2,369.1 576.3,369.1" fill="none" stroke="#9922dd" stroke-width="1.3"/>
<line x1="387.5" y1="378.9" x2="387.5" y2="383.9" stroke="#9922dd" stroke-width="1.1"/>
<line x1="384.8" y1="378.5" x2="389.8" y2="378.5" stroke="#9922dd" stroke-width="1.1"/>
<line x1="384.8" y1="383.5" x2="389.8" y2="383.5" stroke="#9922dd" stroke-width="1.1"/>
<path d="M387.3 383.93L389.72 379.38L384.88 379.38Z" fill="#9922dd"/>
<line x1="404.5" y1="378.9" x2="404.5" y2="383.9" stroke="#9922dd" stroke-width="1.1"/>
<line x1="401.8" y1="378.5" x2="406.8" y2="378.5" stroke="#9922dd" stroke-width="1.1"/>
<line x1="401.8" y1="383.5" x2="406.8" y2="383.5" stroke="#9922dd" stroke-width="1.1"/>
<path d="M404.3 383.93L406.72 379.38L401.88 379.38Z" fill="#9922dd"/>
<line x1="421.5" y1="380.2" x2="421.5" y2="384.2" stroke="#9922dd" stroke-width="1.1"/>
<line x1="418.7" y1="380.5" x2="423.7" y2="380.5" stroke="#9922dd" stroke-width="1.1"/>
<line x1="418.7" y1="384.5" x2="423.7" y2="384.5" stroke="#9922dd" stroke-width="1.1"/>
<path d="M421.2 384.73L423.62 380.18L418.78 380.18Z" fill="#9922dd"/>
<line x1="438.5" y1="356" x2="438.5" y2="364.2" stroke="#9922dd" stroke-width="1.1"/>
<line x1="436.1" y1="356.5" x2="441.1" y2="356.5" stroke="#9922dd" stroke-width="1.1"/>
<line x1="436.1" y1="364.5" x2="441.1" y2="364.5" stroke="#9922dd" stroke-width="1.1"/>
<path d="M438.6 362.63L441.02 358.08L436.18 358.08Z" fill="#9922dd"/>
<line x1="456.5" y1="351" x2="456.5" y2="360.1" stroke="#9922dd" stroke-width="1.1"/>
<line x1="453.5" y1="351.5" x2="458.5" y2="351.5" stroke="#9922dd" stroke-width="1.1"/>
<line x1="453.5" y1="360.5" x2="458.5" y2="360.5" stroke="#9922dd" stroke-width="1.1"/>
<path d="M456 357.13L458.42 352.58L453.58 352.58Z" fill="#9922dd"/>
<line x1="472.5" y1="351" x2="472.5" y2="357" stroke="#9922dd" stroke-width="1.1"/>
<line x1="470.2" y1="351.5" x2="475.2" y2="351.5" stroke="#9922dd" stroke-width="1.1"/>
<line x1="470.2" y1="357.5" x2="475.2" y2="357.5" stroke="#9922dd" stroke-width="1.1"/>
<path d="M472.7 356.53L475.12 351.98L470.28 351.98Z" fill="#9922dd"/>
<line x1="489.5" y1="335.2" x2="489.5" y2="349.9" stroke="#9922dd" stroke-width="1.1"/>
<line x1="487.2" y1="335.5" x2="492.2" y2="335.5" stroke="#9922dd" stroke-width="1.1"/>
<line x1="487.2" y1="349.5" x2="492.2" y2="349.5" stroke="#9922dd" stroke-width="1.1"/>
<path d="M489.7 340.23L492.12 335.68L487.28 335.68Z" fill="#9922dd"/>
<line x1="507.5" y1="329.5" x2="507.5" y2="355" stroke="#9922dd" stroke-width="1.1"/>
<line x1="504.6" y1="329.5" x2="509.6" y2="329.5" stroke="#9922dd" stroke-width="1.1"/>
<line x1="504.6" y1="355.5" x2="509.6" y2="355.5" stroke="#9922dd" stroke-width="1.1"/>
<path d="M507.1 342.63L509.52 338.08L504.68 338.08Z" fill="#9922dd"/>
<line x1="523.5" y1="329.5" x2="523.5" y2="356" stroke="#9922dd" stroke-width="1.1"/>
<line x1="521.3" y1="329.5" x2="526.3" y2="329.5" stroke="#9922dd" stroke-width="1.1"/>
<line x1="521.3" y1="356.5" x2="526.3" y2="356.5" stroke="#9922dd" stroke-width="1.1"/>
<path d="M523.8 344.23L526.22 339.68L521.38 339.68Z" fill="#9922dd"/>
<line x1="541.5" y1="363.2" x2="541.5" y2="372.4" stroke="#9922dd" stroke-width="1.1"/>
<line x1="539" y1="363.5" x2="544" y2="363.5" stroke="#9922dd" stroke-width="1.1"/>
<line x1="539" y1="372.5" x2="544" y2="372.5" stroke="#9922dd" stroke-width="1.1"/>
<path d="M541.5 368.83L543.92 364.28L539.08 364.28Z" fill="#9922dd"/>
<line x1="559.5" y1="367.6" x2="559.5" y2="370.6" stroke="#9922dd" stroke-width="1.1"/>
<line x1="556.7" y1="367.5" x2="561.7" y2="367.5" stroke="#9922dd" stroke-width="1.1"/>
<line x1="556.7" y1="370.5" x2="561.7" y2="370.5" stroke="#9922dd" stroke-width="1.1"/>
<path d="M559.2 371.63L561.62 367.08L556.78 367.08Z" fill="#9922dd"/>
<line x1="576.5" y1="367.6" x2="576.5" y2="370.6" stroke="#9922dd" stroke-width="1.1"/>
<line x1="573.8" y1="367.5" x2="578.8" y2="367.5" stroke="#9922dd" stroke-width="1.1"/>
<line x1="573.8" y1="370.5" x2="578.8" y2="370.5" stroke="#9922dd" stroke-width="1.1"/>
<path d="M576.3 371.63L578.72 367.08L573.88 367.08Z" fill="#9922dd"/>
<polyline points="387.3,380.7 404.3,380.7 421.2,380.2 438.6,352 456,343.8 472.7,342.8 489.7,322.3 507.1,323.8 523.8,326.4 541.5,359.2 559.2,362.7 576.3,361.9" fill="none" stroke="#22bb22" stroke-width="1.3"/>
<line x1="387.5" y1="378.7" x2="387.5" y2="382.7" stroke="#22bb22" stroke-width="1.1"/>
<line x1="384.8" y1="378.5" x2="389.8" y2="378.5" stroke="#22bb22" stroke-width="1.1"/>
<line x1="384.8" y1="382.5" x2="389.8" y2="382.5" stroke="#22bb22" stroke-width="1.1"/>
<path d="M387.3 378.17L389.72 382.72L384.88 382.72Z" fill="#22bb22"/>
<line x1="404.5" y1="378.7" x2="404.5" y2="382.7" stroke="#22bb22" stroke-width="1.1"/>
<line x1="401.8" y1="378.5" x2="406.8" y2="378.5" stroke="#22bb22" stroke-width="1.1"/>
<line x1="401.8" y1="382.5" x2="406.8" y2="382.5" stroke="#22bb22" stroke-width="1.1"/>
<path d="M404.3 378.17L406.72 382.72L401.88 382.72Z" fill="#22bb22"/>
<line x1="421.5" y1="378.2" x2="421.5" y2="382.2" stroke="#22bb22" stroke-width="1.1"/>
<line x1="418.7" y1="378.5" x2="423.7" y2="378.5" stroke="#22bb22" stroke-width="1.1"/>
<line x1="418.7" y1="382.5" x2="423.7" y2="382.5" stroke="#22bb22" stroke-width="1.1"/>
<path d="M421.2 377.67L423.62 382.22L418.78 382.22Z" fill="#22bb22"/>
<line x1="438.5" y1="345.8" x2="438.5" y2="358.1" stroke="#22bb22" stroke-width="1.1"/>
<line x1="436.1" y1="345.5" x2="441.1" y2="345.5" stroke="#22bb22" stroke-width="1.1"/>
<line x1="436.1" y1="358.5" x2="441.1" y2="358.5" stroke="#22bb22" stroke-width="1.1"/>
<path d="M438.6 349.47L441.02 354.02L436.18 354.02Z" fill="#22bb22"/>
<line x1="456.5" y1="336" x2="456.5" y2="351.6" stroke="#22bb22" stroke-width="1.1"/>
<line x1="453.5" y1="336.5" x2="458.5" y2="336.5" stroke="#22bb22" stroke-width="1.1"/>
<line x1="453.5" y1="351.5" x2="458.5" y2="351.5" stroke="#22bb22" stroke-width="1.1"/>
<path d="M456 341.27L458.42 345.82L453.58 345.82Z" fill="#22bb22"/>
<line x1="472.5" y1="333.6" x2="472.5" y2="349.9" stroke="#22bb22" stroke-width="1.1"/>
<line x1="470.2" y1="333.5" x2="475.2" y2="333.5" stroke="#22bb22" stroke-width="1.1"/>
<line x1="470.2" y1="349.5" x2="475.2" y2="349.5" stroke="#22bb22" stroke-width="1.1"/>
<path d="M472.7 340.27L475.12 344.82L470.28 344.82Z" fill="#22bb22"/>
<line x1="489.5" y1="311.1" x2="489.5" y2="333.6" stroke="#22bb22" stroke-width="1.1"/>
<line x1="487.2" y1="311.5" x2="492.2" y2="311.5" stroke="#22bb22" stroke-width="1.1"/>
<line x1="487.2" y1="333.5" x2="492.2" y2="333.5" stroke="#22bb22" stroke-width="1.1"/>
<path d="M489.7 319.77L492.12 324.32L487.28 324.32Z" fill="#22bb22"/>
<line x1="507.5" y1="309.7" x2="507.5" y2="337.3" stroke="#22bb22" stroke-width="1.1"/>
<line x1="504.6" y1="309.5" x2="509.6" y2="309.5" stroke="#22bb22" stroke-width="1.1"/>
<line x1="504.6" y1="337.5" x2="509.6" y2="337.5" stroke="#22bb22" stroke-width="1.1"/>
<path d="M507.1 321.27L509.52 325.82L504.68 325.82Z" fill="#22bb22"/>
<line x1="523.5" y1="312.7" x2="523.5" y2="340.3" stroke="#22bb22" stroke-width="1.1"/>
<line x1="521.3" y1="312.5" x2="526.3" y2="312.5" stroke="#22bb22" stroke-width="1.1"/>
<line x1="521.3" y1="340.5" x2="526.3" y2="340.5" stroke="#22bb22" stroke-width="1.1"/>
<path d="M523.8 323.87L526.22 328.42L521.38 328.42Z" fill="#22bb22"/>
<line x1="541.5" y1="352" x2="541.5" y2="366.3" stroke="#22bb22" stroke-width="1.1"/>
<line x1="539" y1="352.5" x2="544" y2="352.5" stroke="#22bb22" stroke-width="1.1"/>
<line x1="539" y1="366.5" x2="544" y2="366.5" stroke="#22bb22" stroke-width="1.1"/>
<path d="M541.5 356.67L543.92 361.22L539.08 361.22Z" fill="#22bb22"/>
<line x1="559.5" y1="359.7" x2="559.5" y2="365.7" stroke="#22bb22" stroke-width="1.1"/>
<line x1="556.7" y1="359.5" x2="561.7" y2="359.5" stroke="#22bb22" stroke-width="1.1"/>
<line x1="556.7" y1="365.5" x2="561.7" y2="365.5" stroke="#22bb22" stroke-width="1.1"/>
<path d="M559.2 360.17L561.62 364.72L556.78 364.72Z" fill="#22bb22"/>
<line x1="576.5" y1="359.4" x2="576.5" y2="364.4" stroke="#22bb22" stroke-width="1.1"/>
<line x1="573.8" y1="359.5" x2="578.8" y2="359.5" stroke="#22bb22" stroke-width="1.1"/>
<line x1="573.8" y1="364.5" x2="578.8" y2="364.5" stroke="#22bb22" stroke-width="1.1"/>
<path d="M576.3 359.37L578.72 363.92L573.88 363.92Z" fill="#22bb22"/>
<polyline points="387.3,376.3 404.3,376.3 421.2,377.9 438.6,354.6 456,349.5 472.7,347.5 489.7,305.4 507.1,324 523.8,324 541.5,361.9 559.2,370.5 576.3,373.5" fill="none" stroke="#2222ee" stroke-width="1.3"/>
<line x1="387.5" y1="374.8" x2="387.5" y2="377.8" stroke="#2222ee" stroke-width="1.1"/>
<line x1="384.8" y1="374.5" x2="389.8" y2="374.5" stroke="#2222ee" stroke-width="1.1"/>
<line x1="384.8" y1="377.5" x2="389.8" y2="377.5" stroke="#2222ee" stroke-width="1.1"/>
<circle cx="387.3" cy="376.3" r="2.6" fill="#2222ee"/>
<line x1="404.5" y1="374.8" x2="404.5" y2="377.8" stroke="#2222ee" stroke-width="1.1"/>
<line x1="401.8" y1="374.5" x2="406.8" y2="374.5" stroke="#2222ee" stroke-width="1.1"/>
<line x1="401.8" y1="377.5" x2="406.8" y2="377.5" stroke="#2222ee" stroke-width="1.1"/>
<circle cx="404.3" cy="376.3" r="2.6" fill="#2222ee"/>
<line x1="421.5" y1="376.4" x2="421.5" y2="379.4" stroke="#2222ee" stroke-width="1.1"/>
<line x1="418.7" y1="376.5" x2="423.7" y2="376.5" stroke="#2222ee" stroke-width="1.1"/>
<line x1="418.7" y1="379.5" x2="423.7" y2="379.5" stroke="#2222ee" stroke-width="1.1"/>
<circle cx="421.2" cy="377.9" r="2.6" fill="#2222ee"/>
<line x1="438.5" y1="347.9" x2="438.5" y2="360.1" stroke="#2222ee" stroke-width="1.1"/>
<line x1="436.1" y1="347.5" x2="441.1" y2="347.5" stroke="#2222ee" stroke-width="1.1"/>
<line x1="436.1" y1="360.5" x2="441.1" y2="360.5" stroke="#2222ee" stroke-width="1.1"/>
<circle cx="438.6" cy="354.6" r="2.6" fill="#2222ee"/>
<line x1="456.5" y1="343.4" x2="456.5" y2="355" stroke="#2222ee" stroke-width="1.1"/>
<line x1="453.5" y1="343.5" x2="458.5" y2="343.5" stroke="#2222ee" stroke-width="1.1"/>
<line x1="453.5" y1="355.5" x2="458.5" y2="355.5" stroke="#2222ee" stroke-width="1.1"/>
<circle cx="456" cy="349.5" r="2.6" fill="#2222ee"/>
<line x1="472.5" y1="341.7" x2="472.5" y2="353.6" stroke="#2222ee" stroke-width="1.1"/>
<line x1="470.2" y1="341.5" x2="475.2" y2="341.5" stroke="#2222ee" stroke-width="1.1"/>
<line x1="470.2" y1="353.5" x2="475.2" y2="353.5" stroke="#2222ee" stroke-width="1.1"/>
<circle cx="472.7" cy="347.5" r="2.6" fill="#2222ee"/>
<line x1="489.5" y1="297.8" x2="489.5" y2="313.5" stroke="#2222ee" stroke-width="1.1"/>
<line x1="487.2" y1="297.5" x2="492.2" y2="297.5" stroke="#2222ee" stroke-width="1.1"/>
<line x1="487.2" y1="313.5" x2="492.2" y2="313.5" stroke="#2222ee" stroke-width="1.1"/>
<circle cx="489.7" cy="305.4" r="2.6" fill="#2222ee"/>
<line x1="507.5" y1="319.3" x2="507.5" y2="329.9" stroke="#2222ee" stroke-width="1.1"/>
<line x1="504.6" y1="319.5" x2="509.6" y2="319.5" stroke="#2222ee" stroke-width="1.1"/>
<line x1="504.6" y1="329.5" x2="509.6" y2="329.5" stroke="#2222ee" stroke-width="1.1"/>
<circle cx="507.1" cy="324" r="2.6" fill="#2222ee"/>
<line x1="523.5" y1="317.8" x2="523.5" y2="329.5" stroke="#2222ee" stroke-width="1.1"/>
<line x1="521.3" y1="317.5" x2="526.3" y2="317.5" stroke="#2222ee" stroke-width="1.1"/>
<line x1="521.3" y1="329.5" x2="526.3" y2="329.5" stroke="#2222ee" stroke-width="1.1"/>
<circle cx="523.8" cy="324" r="2.6" fill="#2222ee"/>
<line x1="541.5" y1="358.9" x2="541.5" y2="364.9" stroke="#2222ee" stroke-width="1.1"/>
<line x1="539" y1="358.5" x2="544" y2="358.5" stroke="#2222ee" stroke-width="1.1"/>
<line x1="539" y1="364.5" x2="544" y2="364.5" stroke="#2222ee" stroke-width="1.1"/>
<circle cx="541.5" cy="361.9" r="2.6" fill="#2222ee"/>
<line x1="559.5" y1="369" x2="559.5" y2="372" stroke="#2222ee" stroke-width="1.1"/>
<line x1="556.7" y1="369.5" x2="561.7" y2="369.5" stroke="#2222ee" stroke-width="1.1"/>
<line x1="556.7" y1="372.5" x2="561.7" y2="372.5" stroke="#2222ee" stroke-width="1.1"/>
<circle cx="559.2" cy="370.5" r="2.6" fill="#2222ee"/>
<line x1="576.5" y1="372" x2="576.5" y2="375" stroke="#2222ee" stroke-width="1.1"/>
<line x1="573.8" y1="372.5" x2="578.8" y2="372.5" stroke="#2222ee" stroke-width="1.1"/>
<line x1="573.8" y1="375.5" x2="578.8" y2="375.5" stroke="#2222ee" stroke-width="1.1"/>
<circle cx="576.3" cy="373.5" r="2.6" fill="#2222ee"/>
<polyline points="387.3,364 404.3,364.7 421.2,366.2 438.6,337.3 456,331.5 472.7,328.5 489.7,273.9 507.1,286 523.8,284.1 541.5,339.4 559.2,355.9 576.3,360.5" fill="none" stroke="#ee1c1c" stroke-width="1.3"/>
<line x1="387.5" y1="362.5" x2="387.5" y2="365.5" stroke="#ee1c1c" stroke-width="1.1"/>
<line x1="384.8" y1="362.5" x2="389.8" y2="362.5" stroke="#ee1c1c" stroke-width="1.1"/>
<line x1="384.8" y1="365.5" x2="389.8" y2="365.5" stroke="#ee1c1c" stroke-width="1.1"/>
<rect x="384.6" y="361.3" width="5.4" height="5.4" fill="#ee1c1c"/>
<line x1="404.5" y1="363.2" x2="404.5" y2="366.2" stroke="#ee1c1c" stroke-width="1.1"/>
<line x1="401.8" y1="363.5" x2="406.8" y2="363.5" stroke="#ee1c1c" stroke-width="1.1"/>
<line x1="401.8" y1="366.5" x2="406.8" y2="366.5" stroke="#ee1c1c" stroke-width="1.1"/>
<rect x="401.6" y="362" width="5.4" height="5.4" fill="#ee1c1c"/>
<line x1="421.5" y1="364.7" x2="421.5" y2="367.7" stroke="#ee1c1c" stroke-width="1.1"/>
<line x1="418.7" y1="364.5" x2="423.7" y2="364.5" stroke="#ee1c1c" stroke-width="1.1"/>
<line x1="418.7" y1="367.5" x2="423.7" y2="367.5" stroke="#ee1c1c" stroke-width="1.1"/>
<rect x="418.5" y="363.5" width="5.4" height="5.4" fill="#ee1c1c"/>
<line x1="438.5" y1="330.9" x2="438.5" y2="344.2" stroke="#ee1c1c" stroke-width="1.1"/>
<line x1="436.1" y1="330.5" x2="441.1" y2="330.5" stroke="#ee1c1c" stroke-width="1.1"/>
<line x1="436.1" y1="344.5" x2="441.1" y2="344.5" stroke="#ee1c1c" stroke-width="1.1"/>
<rect x="435.9" y="334.6" width="5.4" height="5.4" fill="#ee1c1c"/>
<line x1="456.5" y1="330" x2="456.5" y2="333" stroke="#ee1c1c" stroke-width="1.1"/>
<line x1="453.5" y1="330.5" x2="458.5" y2="330.5" stroke="#ee1c1c" stroke-width="1.1"/>
<line x1="453.5" y1="333.5" x2="458.5" y2="333.5" stroke="#ee1c1c" stroke-width="1.1"/>
<rect x="453.3" y="328.8" width="5.4" height="5.4" fill="#ee1c1c"/>
<line x1="472.5" y1="327" x2="472.5" y2="330" stroke="#ee1c1c" stroke-width="1.1"/>
<line x1="470.2" y1="327.5" x2="475.2" y2="327.5" stroke="#ee1c1c" stroke-width="1.1"/>
<line x1="470.2" y1="330.5" x2="475.2" y2="330.5" stroke="#ee1c1c" stroke-width="1.1"/>
<rect x="470" y="325.8" width="5.4" height="5.4" fill="#ee1c1c"/>
<line x1="489.5" y1="272.4" x2="489.5" y2="275.4" stroke="#ee1c1c" stroke-width="1.1"/>
<line x1="487.2" y1="272.5" x2="492.2" y2="272.5" stroke="#ee1c1c" stroke-width="1.1"/>
<line x1="487.2" y1="275.5" x2="492.2" y2="275.5" stroke="#ee1c1c" stroke-width="1.1"/>
<rect x="487" y="271.2" width="5.4" height="5.4" fill="#ee1c1c"/>
<line x1="507.5" y1="279.4" x2="507.5" y2="291.7" stroke="#ee1c1c" stroke-width="1.1"/>
<line x1="504.6" y1="279.5" x2="509.6" y2="279.5" stroke="#ee1c1c" stroke-width="1.1"/>
<line x1="504.6" y1="291.5" x2="509.6" y2="291.5" stroke="#ee1c1c" stroke-width="1.1"/>
<rect x="504.4" y="283.3" width="5.4" height="5.4" fill="#ee1c1c"/>
<line x1="523.5" y1="273.9" x2="523.5" y2="293.7" stroke="#ee1c1c" stroke-width="1.1"/>
<line x1="521.3" y1="273.5" x2="526.3" y2="273.5" stroke="#ee1c1c" stroke-width="1.1"/>
<line x1="521.3" y1="293.5" x2="526.3" y2="293.5" stroke="#ee1c1c" stroke-width="1.1"/>
<rect x="521.1" y="281.4" width="5.4" height="5.4" fill="#ee1c1c"/>
<line x1="541.5" y1="337.4" x2="541.5" y2="341.4" stroke="#ee1c1c" stroke-width="1.1"/>
<line x1="539" y1="337.5" x2="544" y2="337.5" stroke="#ee1c1c" stroke-width="1.1"/>
<line x1="539" y1="341.5" x2="544" y2="341.5" stroke="#ee1c1c" stroke-width="1.1"/>
<rect x="538.8" y="336.7" width="5.4" height="5.4" fill="#ee1c1c"/>
<line x1="559.5" y1="353.9" x2="559.5" y2="357.9" stroke="#ee1c1c" stroke-width="1.1"/>
<line x1="556.7" y1="353.5" x2="561.7" y2="353.5" stroke="#ee1c1c" stroke-width="1.1"/>
<line x1="556.7" y1="357.5" x2="561.7" y2="357.5" stroke="#ee1c1c" stroke-width="1.1"/>
<rect x="556.5" y="353.2" width="5.4" height="5.4" fill="#ee1c1c"/>
<line x1="576.5" y1="358" x2="576.5" y2="363" stroke="#ee1c1c" stroke-width="1.1"/>
<line x1="573.8" y1="358.5" x2="578.8" y2="358.5" stroke="#ee1c1c" stroke-width="1.1"/>
<line x1="573.8" y1="363.5" x2="578.8" y2="363.5" stroke="#ee1c1c" stroke-width="1.1"/>
<rect x="573.6" y="357.8" width="5.4" height="5.4" fill="#ee1c1c"/>
<rect x="421.5" y="326.8" width="51.2" height="61.2" fill="#a3b9e3" opacity="0.6"/>
<rect x="472.7" y="272.7" width="51.1" height="115.3" fill="#c1d9b4" opacity="0.6"/>
<rect x="523.8" y="272.7" width="8.8" height="54.1" fill="#eeb184" opacity="0.6"/>
<line x1="421.5" y1="252" x2="421.5" y2="363.5" stroke="#222" stroke-width="1"/>
<path d="M419.5 356.5L421.5 364.5L423.5 356.5L421.5 359Z" fill="#222"/>
<line x1="472.5" y1="252" x2="472.5" y2="324.5" stroke="#222" stroke-width="1"/>
<path d="M470.5 317.5L472.5 325.5L474.5 317.5L472.5 320Z" fill="#222"/>
<line x1="524.5" y1="253" x2="524.5" y2="271.7" stroke="#222" stroke-width="1"/>
<path d="M522.5 264.7L524.5 272.7L526.5 264.7L524.5 267.2Z" fill="#222"/>
<text x="420.6" y="249.3" font-size="9.5" text-anchor="middle" fill="#141414">Glucose</text>
<text x="472" y="248.1" font-size="9.5" text-anchor="middle" fill="#141414">Oligomycin</text>
<text x="524.3" y="249.7" font-size="9.5" text-anchor="middle" fill="#141414">2-DG</text>
<text x="448.8" y="384" font-size="9.5" text-anchor="middle" fill="#141414">Glycolysis</text>
<text x="499.3" y="374.8" font-size="9.5" text-anchor="middle" fill="#141414">Glycolytic</text>
<text x="499.3" y="384" font-size="9.5" text-anchor="middle" fill="#141414">capacity</text>
<text x="557.3" y="298.9" font-size="9.5" text-anchor="middle" fill="#141414">Glycolytic</text>
<text x="557.3" y="308.9" font-size="9.5" text-anchor="middle" fill="#141414">reserve</text>
<line x1="585" y1="264.5" x2="598.6" y2="264.5" stroke="#2222ee" stroke-width="1.3"/>
<circle cx="591.8" cy="264.7" r="2.3" fill="#2222ee"/>
<text x="604.5" y="268.1" font-size="9.5" text-anchor="start" fill="#141414">Vector</text>
<line x1="585" y1="280.5" x2="598.6" y2="280.5" stroke="#ee1c1c" stroke-width="1.3"/>
<rect x="589.5" y="277.8" width="4.6" height="4.6" fill="#ee1c1c"/>
<text x="604.5" y="283.5" font-size="9.5" text-anchor="start" fill="#141414">HULC</text>
<line x1="585" y1="297.5" x2="598.6" y2="297.5" stroke="#22bb22" stroke-width="1.3"/>
<path d="M591.8 295.25L594.33 300.02L589.27 300.02Z" fill="#22bb22"/>
<text x="604.5" y="301.3" font-size="9.5" text-anchor="start" fill="#141414">PD-166866</text>
<line x1="585" y1="314.5" x2="598.6" y2="314.5" stroke="#9922dd" stroke-width="1.3"/>
<path d="M591.8 317.54L594.33 312.78L589.27 312.78Z" fill="#9922dd"/>
<text x="604.5" y="318.3" font-size="9.5" text-anchor="start" fill="#141414">DASA-58</text>
<line x1="585" y1="333.5" x2="598.6" y2="333.5" stroke="#f39a2b" stroke-width="1.3"/>
<path d="M591.8 330.62L594.33 333.5L591.8 336.38L589.27 333.5Z" fill="#f39a2b"/>
<text x="604.5" y="336.9" font-size="9.5" text-anchor="start" fill="#141414">GSK2837808A</text>
<rect x="72.2" y="525.8" width="17.9" height="63.2" fill="#8fbdf5"/>
<rect x="90.1" y="540.1" width="18.2" height="48.9" fill="#f9a3a1"/>
<rect x="108.3" y="544.4" width="18" height="44.6" fill="#a3f7a0"/>
<rect x="144.7" y="491.1" width="18.4" height="97.9" fill="#8fbdf5"/>
<rect x="163.1" y="516.8" width="18" height="72.2" fill="#f9a3a1"/>
<rect x="181.1" y="521.7" width="18.2" height="67.3" fill="#a3f7a0"/>
<rect x="217.9" y="553.9" width="18" height="35.1" fill="#8fbdf5"/>
<rect x="235.9" y="566.1" width="18.1" height="22.9" fill="#f9a3a1"/>
<rect x="254" y="567.3" width="18.1" height="21.7" fill="#a3f7a0"/>
<line x1="63.5" y1="453.7" x2="63.5" y2="589.6" stroke="#8a8a8a" stroke-width="1.2"/>
<line x1="59.5" y1="589.5" x2="63" y2="589.5" stroke="#141414" stroke-width="1.2"/>
<text x="54.8" y="593.54" font-size="10.8" text-anchor="end" fill="#141414">0</text>
<line x1="59.5" y1="555.5" x2="63" y2="555.5" stroke="#141414" stroke-width="1.2"/>
<text x="54.8" y="559.86" font-size="10.8" text-anchor="end" fill="#141414">20</text>
<line x1="59.5" y1="521.5" x2="63" y2="521.5" stroke="#141414" stroke-width="1.2"/>
<text x="54.8" y="526.19" font-size="10.8" text-anchor="end" fill="#141414">40</text>
<line x1="59.5" y1="487.5" x2="63" y2="487.5" stroke="#141414" stroke-width="1.2"/>
<text x="54.8" y="492.51" font-size="10.8" text-anchor="end" fill="#141414">60</text>
<line x1="59.5" y1="454.5" x2="63" y2="454.5" stroke="#141414" stroke-width="1.2"/>
<text x="54.8" y="458.84" font-size="10.8" text-anchor="end" fill="#141414">80</text>
<line x1="62.2" y1="589.5" x2="282.4" y2="589.5" stroke="#141414" stroke-width="1.2"/>
<text x="32" y="521" font-size="11.2" text-anchor="middle" fill="#141414" transform="rotate(-90 32 521)">ECAR (mpH/min)</text>
<line x1="80.5" y1="525" x2="80.5" y2="530" stroke="#262626" stroke-width="1"/>
<line x1="77.4" y1="525.5" x2="84.4" y2="525.5" stroke="#262626" stroke-width="1"/>
<line x1="77.4" y1="530.5" x2="84.4" y2="530.5" stroke="#262626" stroke-width="1"/>
<circle cx="74.8" cy="525.4" r="2.3" fill="#141414"/>
<circle cx="87.1" cy="525.4" r="2.3" fill="#141414"/>
<circle cx="80.9" cy="529.5" r="2.3" fill="#141414"/>
<line x1="99.5" y1="534" x2="99.5" y2="546.9" stroke="#262626" stroke-width="1"/>
<line x1="96.2" y1="534.5" x2="103.2" y2="534.5" stroke="#262626" stroke-width="1"/>
<line x1="96.2" y1="546.5" x2="103.2" y2="546.5" stroke="#262626" stroke-width="1"/>
<rect x="94.5" y="533" width="4.4" height="4.4" fill="#141414"/>
<rect x="100" y="535.5" width="4.4" height="4.4" fill="#141414"/>
<rect x="97.1" y="544.7" width="4.4" height="4.4" fill="#141414"/>
<line x1="118.5" y1="538" x2="118.5" y2="551" stroke="#262626" stroke-width="1"/>
<line x1="114.6" y1="538.5" x2="121.6" y2="538.5" stroke="#262626" stroke-width="1"/>
<line x1="114.6" y1="551.5" x2="121.6" y2="551.5" stroke="#262626" stroke-width="1"/>
<path d="M114 536.29L116.31 540.63L111.69 540.63Z" fill="#141414"/>
<path d="M120.6 541.38L122.91 545.73L118.29 545.73Z" fill="#141414"/>
<path d="M117.7 548.99L120.01 553.33L115.39 553.33Z" fill="#141414"/>
<line x1="153.5" y1="486.6" x2="153.5" y2="495.2" stroke="#262626" stroke-width="1"/>
<line x1="149.8" y1="486.5" x2="156.8" y2="486.5" stroke="#262626" stroke-width="1"/>
<line x1="149.8" y1="495.5" x2="156.8" y2="495.5" stroke="#262626" stroke-width="1"/>
<circle cx="153.9" cy="486.6" r="2.3" fill="#141414"/>
<circle cx="157" cy="490.7" r="2.3" fill="#141414"/>
<circle cx="151.2" cy="495.8" r="2.3" fill="#141414"/>
<line x1="172.5" y1="507" x2="172.5" y2="526.4" stroke="#262626" stroke-width="1"/>
<line x1="168.8" y1="507.5" x2="175.8" y2="507.5" stroke="#262626" stroke-width="1"/>
<line x1="168.8" y1="526.5" x2="175.8" y2="526.5" stroke="#262626" stroke-width="1"/>
<rect x="167" y="506.8" width="4.4" height="4.4" fill="#141414"/>
<rect x="172.8" y="510.5" width="4.4" height="4.4" fill="#141414"/>
<rect x="169.5" y="525.7" width="4.4" height="4.4" fill="#141414"/>
<line x1="190.5" y1="515.2" x2="190.5" y2="529.1" stroke="#262626" stroke-width="1"/>
<line x1="186.6" y1="515.5" x2="193.6" y2="515.5" stroke="#262626" stroke-width="1"/>
<line x1="186.6" y1="529.5" x2="193.6" y2="529.5" stroke="#262626" stroke-width="1"/>
<path d="M187.2 513.19L189.51 517.53L184.89 517.53Z" fill="#141414"/>
<path d="M193.3 518.49L195.61 522.83L190.99 522.83Z" fill="#141414"/>
<path d="M190.1 527.09L192.41 531.43L187.79 531.43Z" fill="#141414"/>
<line x1="227.5" y1="551.3" x2="227.5" y2="556.8" stroke="#262626" stroke-width="1"/>
<line x1="223" y1="551.5" x2="231" y2="551.5" stroke="#262626" stroke-width="1"/>
<line x1="223" y1="556.5" x2="231" y2="556.5" stroke="#262626" stroke-width="1"/>
<circle cx="220.7" cy="551" r="2.3" fill="#141414"/>
<circle cx="226.9" cy="556.2" r="2.3" fill="#141414"/>
<circle cx="233" cy="554.5" r="2.3" fill="#141414"/>
<line x1="245.5" y1="561.1" x2="245.5" y2="570.8" stroke="#262626" stroke-width="1"/>
<line x1="241" y1="561.5" x2="249" y2="561.5" stroke="#262626" stroke-width="1"/>
<line x1="241" y1="570.5" x2="249" y2="570.5" stroke="#262626" stroke-width="1"/>
<rect x="242.8" y="558.9" width="4.4" height="4.4" fill="#141414"/>
<rect x="245.8" y="564.8" width="4.4" height="4.4" fill="#141414"/>
<rect x="239.6" y="568.3" width="4.4" height="4.4" fill="#141414"/>
<line x1="263.5" y1="566.5" x2="263.5" y2="568" stroke="#262626" stroke-width="1"/>
<line x1="259.1" y1="566.5" x2="267.1" y2="566.5" stroke="#262626" stroke-width="1"/>
<line x1="259.1" y1="568.5" x2="267.1" y2="568.5" stroke="#262626" stroke-width="1"/>
<path d="M257.3 564.88L259.61 569.23L254.99 569.23Z" fill="#141414"/>
<path d="M263.1 564.88L265.41 569.23L260.79 569.23Z" fill="#141414"/>
<path d="M269.6 564.88L271.91 569.23L267.29 569.23Z" fill="#141414"/>
<line x1="79.3" y1="511.5" x2="99.7" y2="511.5" stroke="#333" stroke-width="1.2"/>
<polygon points="90.5,504.7 91.25,506.57 93.26,506.7 91.71,507.99 92.2,509.95 90.5,508.88 88.8,509.95 89.29,507.99 87.74,506.7 89.75,506.57" fill="#141414"/>
<line x1="80.3" y1="500.5" x2="114.7" y2="500.5" stroke="#333" stroke-width="1.2"/>
<polygon points="96.15,494.4 96.9,496.27 98.91,496.4 97.36,497.69 97.85,499.65 96.15,498.58 94.45,499.65 94.94,497.69 93.39,496.4 95.4,496.27" fill="#141414"/>
<polygon points="101.65,494.4 102.4,496.27 104.41,496.4 102.86,497.69 103.35,499.65 101.65,498.58 99.95,499.65 100.44,497.69 98.89,496.4 100.9,496.27" fill="#141414"/>
<line x1="153.9" y1="481.5" x2="174.3" y2="481.5" stroke="#333" stroke-width="1.2"/>
<polygon points="165,474.7 165.75,476.57 167.76,476.7 166.21,477.99 166.7,479.95 165,478.88 163.3,479.95 163.79,477.99 162.24,476.7 164.25,476.57" fill="#141414"/>
<line x1="158.4" y1="470.5" x2="192.1" y2="470.5" stroke="#333" stroke-width="1.2"/>
<polygon points="173.45,464.4 174.2,466.27 176.21,466.4 174.66,467.69 175.15,469.65 173.45,468.58 171.75,469.65 172.24,467.69 170.69,466.4 172.7,466.27" fill="#141414"/>
<polygon points="178.95,464.4 179.7,466.27 181.71,466.4 180.16,467.69 180.65,469.65 178.95,468.58 177.25,469.65 177.74,467.69 176.19,466.4 178.2,466.27" fill="#141414"/>
<line x1="225.8" y1="543.5" x2="246.2" y2="543.5" stroke="#8a8a8a" stroke-width="1.2"/>
<polygon points="237,536.5 237.75,538.37 239.76,538.5 238.21,539.79 238.7,541.75 237,540.68 235.3,541.75 235.79,539.79 234.24,538.5 236.25,538.37" fill="#141414"/>
<line x1="226.9" y1="531.5" x2="260.8" y2="531.5" stroke="#8a8a8a" stroke-width="1.2"/>
<polygon points="242.25,525.4 243,527.27 245.01,527.4 243.46,528.69 243.95,530.65 242.25,529.58 240.55,530.65 241.04,528.69 239.49,527.4 241.5,527.27" fill="#141414"/>
<polygon points="247.75,525.4 248.5,527.27 250.51,527.4 248.96,528.69 249.45,530.65 247.75,529.58 246.05,530.65 246.54,528.69 244.99,527.4 247,527.27" fill="#141414"/>
<text x="98.8" y="603.9" font-size="9.5" text-anchor="middle" fill="#141414">Glycolysis</text>
<text x="175" y="603.9" font-size="9.5" text-anchor="middle" fill="#141414">Glycolytic</text>
<text x="175" y="615" font-size="9.5" text-anchor="middle" fill="#141414">capacity</text>
<text x="249.5" y="603.9" font-size="9.5" text-anchor="middle" fill="#141414">Glycolytic</text>
<text x="249.5" y="615" font-size="9.5" text-anchor="middle" fill="#141414">reserve</text>
<circle cx="252.4" cy="441" r="2.2" fill="#141414"/>
<text x="258.8" y="444.4" font-size="9.5" text-anchor="start" fill="#141414">Scr</text>
<rect x="250.2" y="455.8" width="4.4" height="4.4" fill="#141414"/>
<text x="258.8" y="461.4" font-size="9.5" text-anchor="start" fill="#141414">shHULC-1</text>
<path d="M252.4 472.07L254.82 476.62L249.98 476.62Z" fill="#141414"/>
<text x="258.8" y="478" font-size="9.5" text-anchor="start" fill="#141414">shHULC-2</text>
<rect x="386.85" y="554" width="11.9" height="37.5" fill="#8fbdf5"/>
<rect x="399.25" y="544.9" width="11.9" height="46.6" fill="#fb7f7f"/>
<rect x="411.65" y="544.3" width="11.9" height="47.2" fill="#a3f79c"/>
<rect x="424.05" y="557.5" width="11.9" height="34" fill="#dc88f2"/>
<rect x="436.45" y="567.1" width="11.9" height="24.4" fill="#fbbd7d"/>
<rect x="461.35" y="500.7" width="11.9" height="90.8" fill="#8fbdf5"/>
<rect x="473.75" y="476.1" width="11.9" height="115.4" fill="#fb7f7f"/>
<rect x="486.15" y="518.2" width="11.9" height="73.3" fill="#a3f79c"/>
<rect x="498.55" y="536.2" width="11.9" height="55.3" fill="#dc88f2"/>
<rect x="510.95" y="564.9" width="11.9" height="26.6" fill="#fbbd7d"/>
<rect x="536.15" y="539.2" width="11.9" height="52.3" fill="#8fbdf5"/>
<rect x="548.55" y="523.2" width="11.9" height="68.3" fill="#fb7f7f"/>
<rect x="560.95" y="565.7" width="11.9" height="25.8" fill="#a3f79c"/>
<rect x="573.35" y="571.7" width="11.9" height="19.8" fill="#dc88f2"/>
<rect x="585.75" y="590.5" width="11.9" height="1" fill="#fbbd7d"/>
<line x1="380.5" y1="457" x2="380.5" y2="592.1" stroke="#141414" stroke-width="1.2"/>
<line x1="377.2" y1="591.5" x2="380.7" y2="591.5" stroke="#141414" stroke-width="1.2"/>
<text x="372.6" y="596.04" font-size="10.8" text-anchor="end" fill="#141414">0</text>
<line x1="377.2" y1="558.5" x2="380.7" y2="558.5" stroke="#141414" stroke-width="1.2"/>
<text x="372.6" y="562.56" font-size="10.8" text-anchor="end" fill="#141414">20</text>
<line x1="377.2" y1="524.5" x2="380.7" y2="524.5" stroke="#141414" stroke-width="1.2"/>
<text x="372.6" y="529.09" font-size="10.8" text-anchor="end" fill="#141414">40</text>
<line x1="377.2" y1="491.5" x2="380.7" y2="491.5" stroke="#141414" stroke-width="1.2"/>
<text x="372.6" y="495.61" font-size="10.8" text-anchor="end" fill="#141414">60</text>
<line x1="377.2" y1="457.5" x2="380.7" y2="457.5" stroke="#141414" stroke-width="1.2"/>
<text x="372.6" y="462.14" font-size="10.8" text-anchor="end" fill="#141414">80</text>
<line x1="380.1" y1="591.5" x2="603.6" y2="591.5" stroke="#141414" stroke-width="1.2"/>
<text x="352" y="521" font-size="11.2" text-anchor="middle" fill="#141414" transform="rotate(-90 352 521)">ECAR (mpH/min)</text>
<line x1="392.5" y1="544.9" x2="392.5" y2="562.4" stroke="#262626" stroke-width="1"/>
<line x1="389.1" y1="544.5" x2="396.1" y2="544.5" stroke="#262626" stroke-width="1"/>
<line x1="389.1" y1="562.5" x2="396.1" y2="562.5" stroke="#262626" stroke-width="1"/>
<circle cx="392.6" cy="544.9" r="2.3" fill="#141414"/>
<circle cx="395.8" cy="556" r="2.3" fill="#141414"/>
<circle cx="389.3" cy="560.7" r="2.3" fill="#141414"/>
<line x1="405.5" y1="542.6" x2="405.5" y2="546.6" stroke="#262626" stroke-width="1"/>
<line x1="401.6" y1="542.5" x2="408.6" y2="542.5" stroke="#262626" stroke-width="1"/>
<line x1="401.6" y1="546.5" x2="408.6" y2="546.5" stroke="#262626" stroke-width="1"/>
<rect x="399.4" y="540.4" width="4.4" height="4.4" fill="#141414"/>
<rect x="405.8" y="542.1" width="4.4" height="4.4" fill="#141414"/>
<rect x="402.9" y="544.4" width="4.4" height="4.4" fill="#141414"/>
<line x1="417.5" y1="535" x2="417.5" y2="553.6" stroke="#262626" stroke-width="1"/>
<line x1="413.9" y1="535.5" x2="420.9" y2="535.5" stroke="#262626" stroke-width="1"/>
<line x1="413.9" y1="553.5" x2="420.9" y2="553.5" stroke="#262626" stroke-width="1"/>
<path d="M414.5 536.09L416.81 540.43L412.19 540.43Z" fill="#141414"/>
<path d="M420.9 537.79L423.21 542.13L418.59 542.13Z" fill="#141414"/>
<path d="M417.4 552.99L419.71 557.33L415.09 557.33Z" fill="#141414"/>
<line x1="430.5" y1="546.6" x2="430.5" y2="564.7" stroke="#262626" stroke-width="1"/>
<line x1="426.7" y1="546.5" x2="433.7" y2="546.5" stroke="#262626" stroke-width="1"/>
<line x1="426.7" y1="564.5" x2="433.7" y2="564.5" stroke="#262626" stroke-width="1"/>
<path d="M427.3 564.81L429.61 560.47L424.99 560.47Z" fill="#141414"/>
<path d="M433.1 563.12L435.41 558.77L430.79 558.77Z" fill="#141414"/>
<path d="M430.2 549.01L432.51 544.67L427.89 544.67Z" fill="#141414"/>
<line x1="442.5" y1="564.2" x2="442.5" y2="568.8" stroke="#262626" stroke-width="1"/>
<line x1="439.5" y1="564.5" x2="445.5" y2="564.5" stroke="#262626" stroke-width="1"/>
<line x1="439.5" y1="568.5" x2="445.5" y2="568.5" stroke="#262626" stroke-width="1"/>
<path d="M439.6 561.83L441.69 564.2L439.6 566.58L437.51 564.2Z" fill="#141414"/>
<path d="M445.4 564.12L447.49 566.5L445.4 568.88L443.31 566.5Z" fill="#141414"/>
<path d="M442.5 566.42L444.59 568.8L442.5 571.17L440.41 568.8Z" fill="#141414"/>
<line x1="467.5" y1="493.6" x2="467.5" y2="509.4" stroke="#262626" stroke-width="1"/>
<line x1="463.5" y1="493.5" x2="470.5" y2="493.5" stroke="#262626" stroke-width="1"/>
<line x1="463.5" y1="509.5" x2="470.5" y2="509.5" stroke="#262626" stroke-width="1"/>
<circle cx="463.8" cy="494.5" r="2.3" fill="#141414"/>
<circle cx="470.2" cy="498.1" r="2.3" fill="#141414"/>
<circle cx="467" cy="509.4" r="2.3" fill="#141414"/>
<line x1="479.5" y1="470.6" x2="479.5" y2="481" stroke="#262626" stroke-width="1"/>
<line x1="476" y1="470.5" x2="483" y2="470.5" stroke="#262626" stroke-width="1"/>
<line x1="476" y1="481.5" x2="483" y2="481.5" stroke="#262626" stroke-width="1"/>
<rect x="474.2" y="468.4" width="4.4" height="4.4" fill="#141414"/>
<rect x="480.8" y="472.2" width="4.4" height="4.4" fill="#141414"/>
<rect x="477.3" y="479.2" width="4.4" height="4.4" fill="#141414"/>
<line x1="492.5" y1="500.7" x2="492.5" y2="535" stroke="#262626" stroke-width="1"/>
<line x1="488.9" y1="500.5" x2="495.9" y2="500.5" stroke="#262626" stroke-width="1"/>
<line x1="488.9" y1="535.5" x2="495.9" y2="535.5" stroke="#262626" stroke-width="1"/>
<path d="M488.9 503.28L491.21 507.63L486.59 507.63Z" fill="#141414"/>
<path d="M495.3 508.78L497.61 513.13L492.99 513.13Z" fill="#141414"/>
<path d="M492.4 531.59L494.71 535.93L490.09 535.93Z" fill="#141414"/>
<line x1="504.5" y1="519.9" x2="504.5" y2="546" stroke="#262626" stroke-width="1"/>
<line x1="501.1" y1="519.5" x2="508.1" y2="519.5" stroke="#262626" stroke-width="1"/>
<line x1="501.1" y1="546.5" x2="508.1" y2="546.5" stroke="#262626" stroke-width="1"/>
<path d="M504.6 524.31L506.91 519.97L502.29 519.97Z" fill="#141414"/>
<path d="M501.6 545.41L503.91 541.07L499.29 541.07Z" fill="#141414"/>
<path d="M507.6 539.41L509.91 535.07L505.29 535.07Z" fill="#141414"/>
<line x1="517.5" y1="562" x2="517.5" y2="567.5" stroke="#262626" stroke-width="1"/>
<line x1="514.4" y1="562.5" x2="520.4" y2="562.5" stroke="#262626" stroke-width="1"/>
<line x1="514.4" y1="567.5" x2="520.4" y2="567.5" stroke="#262626" stroke-width="1"/>
<path d="M514.5 560.12L516.59 562.5L514.5 564.88L512.41 562.5Z" fill="#141414"/>
<path d="M520.3 562.12L522.39 564.5L520.3 566.88L518.21 564.5Z" fill="#141414"/>
<path d="M517.4 565.12L519.49 567.5L517.4 569.88L515.31 567.5Z" fill="#141414"/>
<line x1="541.5" y1="533.7" x2="541.5" y2="541" stroke="#262626" stroke-width="1"/>
<line x1="538.3" y1="533.5" x2="545.3" y2="533.5" stroke="#262626" stroke-width="1"/>
<line x1="538.3" y1="541.5" x2="545.3" y2="541.5" stroke="#262626" stroke-width="1"/>
<circle cx="541.8" cy="533.7" r="2.3" fill="#141414"/>
<circle cx="538.6" cy="541.3" r="2.3" fill="#141414"/>
<circle cx="545.1" cy="540.6" r="2.3" fill="#141414"/>
<line x1="554.5" y1="519.7" x2="554.5" y2="527" stroke="#262626" stroke-width="1"/>
<line x1="550.9" y1="519.5" x2="557.9" y2="519.5" stroke="#262626" stroke-width="1"/>
<line x1="550.9" y1="527.5" x2="557.9" y2="527.5" stroke="#262626" stroke-width="1"/>
<rect x="548.7" y="525.2" width="4.4" height="4.4" fill="#141414"/>
<rect x="552.2" y="517.5" width="4.4" height="4.4" fill="#141414"/>
<rect x="555.7" y="519.6" width="4.4" height="4.4" fill="#141414"/>
<line x1="566.5" y1="558.7" x2="566.5" y2="574.8" stroke="#262626" stroke-width="1"/>
<line x1="563" y1="558.5" x2="570" y2="558.5" stroke="#262626" stroke-width="1"/>
<line x1="563" y1="574.5" x2="570" y2="574.5" stroke="#262626" stroke-width="1"/>
<path d="M566.5 556.29L568.81 560.63L564.19 560.63Z" fill="#141414"/>
<path d="M566.5 562.88L568.81 567.23L564.19 567.23Z" fill="#141414"/>
<path d="M566.5 572.38L568.81 576.73L564.19 576.73Z" fill="#141414"/>
<line x1="579.5" y1="564.3" x2="579.5" y2="575.9" stroke="#262626" stroke-width="1"/>
<line x1="576" y1="564.5" x2="583" y2="564.5" stroke="#262626" stroke-width="1"/>
<line x1="576" y1="575.5" x2="583" y2="575.5" stroke="#262626" stroke-width="1"/>
<path d="M576.7 578.31L579.01 573.97L574.39 573.97Z" fill="#141414"/>
<path d="M582.7 573.01L585.01 568.67L580.39 568.67Z" fill="#141414"/>
<path d="M579.5 566.71L581.81 562.37L577.19 562.37Z" fill="#141414"/>
<line x1="592.5" y1="588" x2="592.5" y2="591.5" stroke="#262626" stroke-width="1"/>
<line x1="588.5" y1="588.5" x2="595.5" y2="588.5" stroke="#262626" stroke-width="1"/>
<line x1="588.5" y1="591.5" x2="595.5" y2="591.5" stroke="#262626" stroke-width="1"/>
<path d="M589.2 584.62L591.29 587L589.2 589.38L587.11 587Z" fill="#141414"/>
<path d="M591.3 589.12L593.39 591.5L591.3 593.88L589.21 591.5Z" fill="#141414"/>
<path d="M594.8 589.12L596.89 591.5L594.8 593.88L592.71 591.5Z" fill="#141414"/>
<line x1="391.7" y1="535.5" x2="405.7" y2="535.5" stroke="#8a8a8a" stroke-width="1.2"/>
<text x="398.7" y="532.5" font-size="10.5" text-anchor="middle" fill="#141414">n.s.</text>
<line x1="404.5" y1="524.5" x2="418" y2="524.5" stroke="#8a8a8a" stroke-width="1.2"/>
<text x="411.25" y="521.5" font-size="10.5" text-anchor="middle" fill="#141414">n.s.</text>
<line x1="405.1" y1="510.5" x2="431" y2="510.5" stroke="#141414" stroke-width="1.2"/>
<text x="418.05" y="507.5" font-size="10.5" text-anchor="middle" fill="#141414">n.s.</text>
<line x1="405.1" y1="496.5" x2="442.7" y2="496.5" stroke="#141414" stroke-width="1.2"/>
<polygon points="418.7,490.1 419.45,491.97 421.46,492.1 419.91,493.39 420.4,495.35 418.7,494.28 417,495.35 417.49,493.39 415.94,492.1 417.95,491.97" fill="#141414"/>
<polygon points="423.9,490.1 424.65,491.97 426.66,492.1 425.11,493.39 425.6,495.35 423.9,494.28 422.2,495.35 422.69,493.39 421.14,492.1 423.15,491.97" fill="#141414"/>
<polygon points="429.1,490.1 429.85,491.97 431.86,492.1 430.31,493.39 430.8,495.35 429.1,494.28 427.4,495.35 427.89,493.39 426.34,492.1 428.35,491.97" fill="#141414"/>
<line x1="466.1" y1="466.5" x2="479.9" y2="466.5" stroke="#141414" stroke-width="1.2"/>
<polygon points="472.5,459.9 473.25,461.77 475.26,461.9 473.71,463.19 474.2,465.15 472.5,464.08 470.8,465.15 471.29,463.19 469.74,461.9 471.75,461.77" fill="#141414"/>
<line x1="477.2" y1="458.5" x2="490.6" y2="458.5" stroke="#141414" stroke-width="1.2"/>
<polygon points="484,451.7 484.75,453.57 486.76,453.7 485.21,454.99 485.7,456.95 484,455.88 482.3,456.95 482.79,454.99 481.24,453.7 483.25,453.57" fill="#141414"/>
<line x1="477.2" y1="449.5" x2="503.8" y2="449.5" stroke="#141414" stroke-width="1.2"/>
<polygon points="487.85,443.4 488.6,445.27 490.61,445.4 489.06,446.69 489.55,448.65 487.85,447.58 486.15,448.65 486.64,446.69 485.09,445.4 487.1,445.27" fill="#141414"/>
<polygon points="493.15,443.4 493.9,445.27 495.91,445.4 494.36,446.69 494.85,448.65 493.15,447.58 491.45,448.65 491.94,446.69 490.39,445.4 492.4,445.27" fill="#141414"/>
<line x1="477.2" y1="441.5" x2="515.1" y2="441.5" stroke="#141414" stroke-width="1.2"/>
<polygon points="491.6,435 492.35,436.87 494.36,437 492.81,438.29 493.3,440.25 491.6,439.18 489.9,440.25 490.39,438.29 488.84,437 490.85,436.87" fill="#141414"/>
<polygon points="496.8,435 497.55,436.87 499.56,437 498.01,438.29 498.5,440.25 496.8,439.18 495.1,440.25 495.59,438.29 494.04,437 496.05,436.87" fill="#141414"/>
<polygon points="502,435 502.75,436.87 504.76,437 503.21,438.29 503.7,440.25 502,439.18 500.3,440.25 500.79,438.29 499.24,437 501.25,436.87" fill="#141414"/>
<line x1="539.1" y1="514.5" x2="553" y2="514.5" stroke="#8a8a8a" stroke-width="1.2"/>
<polygon points="543.4,508.3 544.15,510.17 546.16,510.3 544.61,511.59 545.1,513.55 543.4,512.48 541.7,513.55 542.19,511.59 540.64,510.3 542.65,510.17" fill="#141414"/>
<polygon points="548.7,508.3 549.45,510.17 551.46,510.3 549.91,511.59 550.4,513.55 548.7,512.48 547,513.55 547.49,511.59 545.94,510.3 547.95,510.17" fill="#141414"/>
<line x1="551.6" y1="506.5" x2="565.5" y2="506.5" stroke="#141414" stroke-width="1.2"/>
<polygon points="555.9,500.3 556.65,502.17 558.66,502.3 557.11,503.59 557.6,505.55 555.9,504.48 554.2,505.55 554.69,503.59 553.14,502.3 555.15,502.17" fill="#141414"/>
<polygon points="561.2,500.3 561.95,502.17 563.96,502.3 562.41,503.59 562.9,505.55 561.2,504.48 559.5,505.55 559.99,503.59 558.44,502.3 560.45,502.17" fill="#141414"/>
<line x1="551.6" y1="495.5" x2="578.1" y2="495.5" stroke="#141414" stroke-width="1.2"/>
<polygon points="559.65,489.3 560.4,491.17 562.41,491.3 560.86,492.59 561.35,494.55 559.65,493.48 557.95,494.55 558.44,492.59 556.89,491.3 558.9,491.17" fill="#141414"/>
<polygon points="564.85,489.3 565.6,491.17 567.61,491.3 566.06,492.59 566.55,494.55 564.85,493.48 563.15,494.55 563.64,492.59 562.09,491.3 564.1,491.17" fill="#141414"/>
<polygon points="570.05,489.3 570.8,491.17 572.81,491.3 571.26,492.59 571.75,494.55 570.05,493.48 568.35,494.55 568.84,492.59 567.29,491.3 569.3,491.17" fill="#141414"/>
<line x1="551.6" y1="486.5" x2="590.2" y2="486.5" stroke="#141414" stroke-width="1.2"/>
<polygon points="566.8,480 567.55,481.87 569.56,482 568.01,483.29 568.5,485.25 566.8,484.18 565.1,485.25 565.59,483.29 564.04,482 566.05,481.87" fill="#141414"/>
<polygon points="572,480 572.75,481.87 574.76,482 573.21,483.29 573.7,485.25 572,484.18 570.3,485.25 570.79,483.29 569.24,482 571.25,481.87" fill="#141414"/>
<polygon points="577.2,480 577.95,481.87 579.96,482 578.41,483.29 578.9,485.25 577.2,484.18 575.5,485.25 575.99,483.29 574.44,482 576.45,481.87" fill="#141414"/>
<text x="415.7" y="603.9" font-size="9.5" text-anchor="middle" fill="#141414">Glycolysis</text>
<text x="492" y="603.9" font-size="9.5" text-anchor="middle" fill="#141414">Glycolytic</text>
<text x="492" y="614.7" font-size="9.5" text-anchor="middle" fill="#141414">capacity</text>
<text x="566.3" y="603.9" font-size="9.5" text-anchor="middle" fill="#141414">Glycolytic</text>
<text x="566.3" y="614.7" font-size="9.5" text-anchor="middle" fill="#141414">reserve</text>
<circle cx="597.3" cy="439" r="2.2" fill="#141414"/>
<text x="603.9" y="442.4" font-size="9.5" text-anchor="start" fill="#141414">Vector</text>
<rect x="595.1" y="454.8" width="4.4" height="4.4" fill="#141414"/>
<text x="603.9" y="460.4" font-size="9.5" text-anchor="start" fill="#141414">HULC</text>
<path d="M597.3 472.47L599.72 477.02L594.88 477.02Z" fill="#141414"/>
<text x="603.9" y="478.4" font-size="9.5" text-anchor="start" fill="#141414">PD-166866</text>
<path d="M597.3 495.73L599.72 491.18L594.88 491.18Z" fill="#141414"/>
<text x="603.9" y="496.6" font-size="9.5" text-anchor="start" fill="#141414">DASA-58</text>
<path d="M597.3 508.95L599.72 511.7L597.3 514.45L594.88 511.7Z" fill="#141414"/>
<text x="603.9" y="515.1" font-size="9.5" text-anchor="start" fill="#141414">GSK2837808A</text>
<line x1="41.5" y1="660.8" x2="41.5" y2="813.1" stroke="#777" stroke-width="1.2"/>
<line x1="39" y1="812.5" x2="41" y2="812.5" stroke="#333" stroke-width="1.2"/>
<text x="34.4" y="817.04" font-size="10.8" text-anchor="end" fill="#141414">0.0</text>
<line x1="39" y1="774.5" x2="41" y2="774.5" stroke="#333" stroke-width="1.2"/>
<text x="34.4" y="779.26" font-size="10.8" text-anchor="end" fill="#141414">0.5</text>
<line x1="39" y1="736.5" x2="41" y2="736.5" stroke="#333" stroke-width="1.2"/>
<text x="34.4" y="741.49" font-size="10.8" text-anchor="end" fill="#141414">1.0</text>
<line x1="39" y1="699.5" x2="41" y2="699.5" stroke="#333" stroke-width="1.2"/>
<text x="34.4" y="703.71" font-size="10.8" text-anchor="end" fill="#141414">1.5</text>
<line x1="39" y1="661.5" x2="41" y2="661.5" stroke="#333" stroke-width="1.2"/>
<text x="34.4" y="665.94" font-size="10.8" text-anchor="end" fill="#141414">2.0</text>
<line x1="40.4" y1="812.5" x2="175" y2="812.5" stroke="#141414" stroke-width="1.2"/>
<line x1="67.5" y1="812.5" x2="67.5" y2="815.5" stroke="#141414" stroke-width="1.2"/>
<line x1="107.5" y1="812.5" x2="107.5" y2="815.5" stroke="#141414" stroke-width="1.2"/>
<line x1="148.5" y1="812.5" x2="148.5" y2="815.5" stroke="#141414" stroke-width="1.2"/>
<text x="11.5" y="738.1" font-size="11.2" text-anchor="middle" fill="#141414" transform="rotate(-90 11.5 738.1)">Relative OCR</text>
<circle cx="67.8" cy="716.1" r="1.6" fill="#a3a3a3"/>
<circle cx="56.4" cy="718.3" r="1.6" fill="#a3a3a3"/>
<circle cx="56.4" cy="718.9" r="1.6" fill="#a3a3a3"/>
<circle cx="58.47" cy="719.62" r="1.6" fill="#a3a3a3"/>
<circle cx="58.47" cy="720.22" r="1.6" fill="#a3a3a3"/>
<circle cx="60.55" cy="720.68" r="1.6" fill="#a3a3a3"/>
<circle cx="60.55" cy="721.28" r="1.6" fill="#a3a3a3"/>
<circle cx="62.62" cy="721.47" r="1.6" fill="#a3a3a3"/>
<circle cx="62.62" cy="722.07" r="1.6" fill="#a3a3a3"/>
<circle cx="64.69" cy="722" r="1.6" fill="#a3a3a3"/>
<circle cx="64.69" cy="722.6" r="1.6" fill="#a3a3a3"/>
<circle cx="66.76" cy="722.27" r="1.6" fill="#a3a3a3"/>
<circle cx="66.76" cy="722.87" r="1.6" fill="#a3a3a3"/>
<circle cx="68.84" cy="722.27" r="1.6" fill="#a3a3a3"/>
<circle cx="68.84" cy="722.87" r="1.6" fill="#a3a3a3"/>
<circle cx="70.91" cy="722" r="1.6" fill="#a3a3a3"/>
<circle cx="70.91" cy="722.6" r="1.6" fill="#a3a3a3"/>
<circle cx="72.98" cy="721.47" r="1.6" fill="#a3a3a3"/>
<circle cx="72.98" cy="722.07" r="1.6" fill="#a3a3a3"/>
<circle cx="75.05" cy="720.68" r="1.6" fill="#a3a3a3"/>
<circle cx="75.05" cy="721.28" r="1.6" fill="#a3a3a3"/>
<circle cx="77.13" cy="719.62" r="1.6" fill="#a3a3a3"/>
<circle cx="77.13" cy="720.22" r="1.6" fill="#a3a3a3"/>
<circle cx="79.2" cy="718.3" r="1.6" fill="#a3a3a3"/>
<circle cx="79.2" cy="718.9" r="1.6" fill="#a3a3a3"/>
<circle cx="56.2" cy="729.6" r="1.6" fill="#a3a3a3"/>
<circle cx="56.2" cy="730.4" r="1.6" fill="#a3a3a3"/>
<circle cx="58.13" cy="730.52" r="1.6" fill="#a3a3a3"/>
<circle cx="58.13" cy="731.32" r="1.6" fill="#a3a3a3"/>
<circle cx="60.07" cy="731.27" r="1.6" fill="#a3a3a3"/>
<circle cx="60.07" cy="732.07" r="1.6" fill="#a3a3a3"/>
<circle cx="62" cy="731.85" r="1.6" fill="#a3a3a3"/>
<circle cx="62" cy="732.65" r="1.6" fill="#a3a3a3"/>
<circle cx="63.93" cy="732.27" r="1.6" fill="#a3a3a3"/>
<circle cx="63.93" cy="733.07" r="1.6" fill="#a3a3a3"/>
<circle cx="65.87" cy="732.52" r="1.6" fill="#a3a3a3"/>
<circle cx="65.87" cy="733.32" r="1.6" fill="#a3a3a3"/>
<circle cx="67.8" cy="732.6" r="1.6" fill="#a3a3a3"/>
<circle cx="67.8" cy="733.4" r="1.6" fill="#a3a3a3"/>
<circle cx="69.73" cy="732.52" r="1.6" fill="#a3a3a3"/>
<circle cx="69.73" cy="733.32" r="1.6" fill="#a3a3a3"/>
<circle cx="71.67" cy="732.27" r="1.6" fill="#a3a3a3"/>
<circle cx="71.67" cy="733.07" r="1.6" fill="#a3a3a3"/>
<circle cx="73.6" cy="731.85" r="1.6" fill="#a3a3a3"/>
<circle cx="73.6" cy="732.65" r="1.6" fill="#a3a3a3"/>
<circle cx="75.53" cy="731.27" r="1.6" fill="#a3a3a3"/>
<circle cx="75.53" cy="732.07" r="1.6" fill="#a3a3a3"/>
<circle cx="77.47" cy="730.52" r="1.6" fill="#a3a3a3"/>
<circle cx="77.47" cy="731.32" r="1.6" fill="#a3a3a3"/>
<circle cx="79.4" cy="729.6" r="1.6" fill="#a3a3a3"/>
<circle cx="79.4" cy="730.4" r="1.6" fill="#a3a3a3"/>
<circle cx="62.5" cy="728.5" r="1.5" fill="#a3a3a3"/>
<circle cx="57.2" cy="735.2" r="1.3" fill="#a3a3a3"/>
<circle cx="59.13" cy="735.53" r="1.3" fill="#a3a3a3"/>
<circle cx="61.05" cy="735.8" r="1.3" fill="#a3a3a3"/>
<circle cx="62.98" cy="735.99" r="1.3" fill="#a3a3a3"/>
<circle cx="64.91" cy="736.13" r="1.3" fill="#a3a3a3"/>
<circle cx="66.84" cy="736.19" r="1.3" fill="#a3a3a3"/>
<circle cx="68.76" cy="736.19" r="1.3" fill="#a3a3a3"/>
<circle cx="70.69" cy="736.13" r="1.3" fill="#a3a3a3"/>
<circle cx="72.62" cy="735.99" r="1.3" fill="#a3a3a3"/>
<circle cx="74.55" cy="735.8" r="1.3" fill="#a3a3a3"/>
<circle cx="76.47" cy="735.53" r="1.3" fill="#a3a3a3"/>
<circle cx="78.4" cy="735.2" r="1.3" fill="#a3a3a3"/>
<circle cx="56.2" cy="740.4" r="1.6" fill="#a3a3a3"/>
<circle cx="56.2" cy="741.2" r="1.6" fill="#a3a3a3"/>
<circle cx="58.13" cy="741.44" r="1.6" fill="#a3a3a3"/>
<circle cx="58.13" cy="742.24" r="1.6" fill="#a3a3a3"/>
<circle cx="60.07" cy="742.29" r="1.6" fill="#a3a3a3"/>
<circle cx="60.07" cy="743.09" r="1.6" fill="#a3a3a3"/>
<circle cx="62" cy="742.95" r="1.6" fill="#a3a3a3"/>
<circle cx="62" cy="743.75" r="1.6" fill="#a3a3a3"/>
<circle cx="63.93" cy="743.42" r="1.6" fill="#a3a3a3"/>
<circle cx="63.93" cy="744.22" r="1.6" fill="#a3a3a3"/>
<circle cx="65.87" cy="743.71" r="1.6" fill="#a3a3a3"/>
<circle cx="65.87" cy="744.51" r="1.6" fill="#a3a3a3"/>
<circle cx="67.8" cy="743.8" r="1.6" fill="#a3a3a3"/>
<circle cx="67.8" cy="744.6" r="1.6" fill="#a3a3a3"/>
<circle cx="69.73" cy="743.71" r="1.6" fill="#a3a3a3"/>
<circle cx="69.73" cy="744.51" r="1.6" fill="#a3a3a3"/>
<circle cx="71.67" cy="743.42" r="1.6" fill="#a3a3a3"/>
<circle cx="71.67" cy="744.22" r="1.6" fill="#a3a3a3"/>
<circle cx="73.6" cy="742.95" r="1.6" fill="#a3a3a3"/>
<circle cx="73.6" cy="743.75" r="1.6" fill="#a3a3a3"/>
<circle cx="75.53" cy="742.29" r="1.6" fill="#a3a3a3"/>
<circle cx="75.53" cy="743.09" r="1.6" fill="#a3a3a3"/>
<circle cx="77.47" cy="741.44" r="1.6" fill="#a3a3a3"/>
<circle cx="77.47" cy="742.24" r="1.6" fill="#a3a3a3"/>
<circle cx="79.4" cy="740.4" r="1.6" fill="#a3a3a3"/>
<circle cx="79.4" cy="741.2" r="1.6" fill="#a3a3a3"/>
<circle cx="70.1" cy="751.5" r="1.6" fill="#a3a3a3"/>
<circle cx="56.6" cy="754.6" r="1.6" fill="#a3a3a3"/>
<circle cx="56.6" cy="755" r="1.6" fill="#a3a3a3"/>
<circle cx="58.64" cy="755" r="1.6" fill="#a3a3a3"/>
<circle cx="58.64" cy="755.4" r="1.6" fill="#a3a3a3"/>
<circle cx="60.67" cy="755.31" r="1.6" fill="#a3a3a3"/>
<circle cx="60.67" cy="755.71" r="1.6" fill="#a3a3a3"/>
<circle cx="62.71" cy="755.55" r="1.6" fill="#a3a3a3"/>
<circle cx="62.71" cy="755.95" r="1.6" fill="#a3a3a3"/>
<circle cx="64.75" cy="755.71" r="1.6" fill="#a3a3a3"/>
<circle cx="64.75" cy="756.11" r="1.6" fill="#a3a3a3"/>
<circle cx="66.78" cy="755.79" r="1.6" fill="#a3a3a3"/>
<circle cx="66.78" cy="756.19" r="1.6" fill="#a3a3a3"/>
<circle cx="68.82" cy="755.79" r="1.6" fill="#a3a3a3"/>
<circle cx="68.82" cy="756.19" r="1.6" fill="#a3a3a3"/>
<circle cx="70.85" cy="755.71" r="1.6" fill="#a3a3a3"/>
<circle cx="70.85" cy="756.11" r="1.6" fill="#a3a3a3"/>
<circle cx="72.89" cy="755.55" r="1.6" fill="#a3a3a3"/>
<circle cx="72.89" cy="755.95" r="1.6" fill="#a3a3a3"/>
<circle cx="74.93" cy="755.31" r="1.6" fill="#a3a3a3"/>
<circle cx="74.93" cy="755.71" r="1.6" fill="#a3a3a3"/>
<circle cx="76.96" cy="755" r="1.6" fill="#a3a3a3"/>
<circle cx="76.96" cy="755.4" r="1.6" fill="#a3a3a3"/>
<circle cx="79" cy="754.6" r="1.6" fill="#a3a3a3"/>
<circle cx="79" cy="755" r="1.6" fill="#a3a3a3"/>
<line x1="54.7" y1="737.5" x2="81" y2="737.5" stroke="#141414" stroke-width="1.2"/>
<line x1="67.5" y1="726.4" x2="67.5" y2="747.7" stroke="#262626" stroke-width="1.2"/>
<line x1="61.25" y1="726.5" x2="73.75" y2="726.5" stroke="#262626" stroke-width="1.2"/>
<line x1="61.25" y1="747.5" x2="73.75" y2="747.5" stroke="#262626" stroke-width="1.2"/>
<rect x="101.5" y="685" width="3" height="3" fill="#5aa8f8"/>
<rect x="107" y="687" width="3" height="3" fill="#5aa8f8"/>
<rect x="110.5" y="686" width="3" height="3" fill="#5aa8f8"/>
<rect x="97.5" y="688" width="3" height="3" fill="#5aa8f8"/>
<rect x="115" y="688.5" width="3" height="3" fill="#5aa8f8"/>
<rect x="104" y="690" width="3" height="3" fill="#5aa8f8"/>
<rect x="108.5" y="689.8" width="3" height="3" fill="#5aa8f8"/>
<rect x="95.5" y="688.5" width="3" height="3" fill="#5aa8f8"/>
<rect x="95.5" y="689.3" width="3" height="3" fill="#5aa8f8"/>
<rect x="97.6" y="689.94" width="3" height="3" fill="#5aa8f8"/>
<rect x="97.6" y="690.74" width="3" height="3" fill="#5aa8f8"/>
<rect x="99.7" y="691.06" width="3" height="3" fill="#5aa8f8"/>
<rect x="99.7" y="691.86" width="3" height="3" fill="#5aa8f8"/>
<rect x="101.8" y="691.86" width="3" height="3" fill="#5aa8f8"/>
<rect x="101.8" y="692.66" width="3" height="3" fill="#5aa8f8"/>
<rect x="103.9" y="692.34" width="3" height="3" fill="#5aa8f8"/>
<rect x="103.9" y="693.14" width="3" height="3" fill="#5aa8f8"/>
<rect x="106" y="692.5" width="3" height="3" fill="#5aa8f8"/>
<rect x="106" y="693.3" width="3" height="3" fill="#5aa8f8"/>
<rect x="108.1" y="692.34" width="3" height="3" fill="#5aa8f8"/>
<rect x="108.1" y="693.14" width="3" height="3" fill="#5aa8f8"/>
<rect x="110.2" y="691.86" width="3" height="3" fill="#5aa8f8"/>
<rect x="110.2" y="692.66" width="3" height="3" fill="#5aa8f8"/>
<rect x="112.3" y="691.06" width="3" height="3" fill="#5aa8f8"/>
<rect x="112.3" y="691.86" width="3" height="3" fill="#5aa8f8"/>
<rect x="114.4" y="689.94" width="3" height="3" fill="#5aa8f8"/>
<rect x="114.4" y="690.74" width="3" height="3" fill="#5aa8f8"/>
<rect x="116.5" y="688.5" width="3" height="3" fill="#5aa8f8"/>
<rect x="116.5" y="689.3" width="3" height="3" fill="#5aa8f8"/>
<rect x="93.7" y="698.4" width="3.2" height="3.2" fill="#5aa8f8"/>
<rect x="93.7" y="699.4" width="3.2" height="3.2" fill="#5aa8f8"/>
<rect x="95.73" y="699.32" width="3.2" height="3.2" fill="#5aa8f8"/>
<rect x="95.73" y="700.32" width="3.2" height="3.2" fill="#5aa8f8"/>
<rect x="97.77" y="700.07" width="3.2" height="3.2" fill="#5aa8f8"/>
<rect x="97.77" y="701.07" width="3.2" height="3.2" fill="#5aa8f8"/>
<rect x="99.8" y="700.65" width="3.2" height="3.2" fill="#5aa8f8"/>
<rect x="99.8" y="701.65" width="3.2" height="3.2" fill="#5aa8f8"/>
<rect x="101.83" y="701.07" width="3.2" height="3.2" fill="#5aa8f8"/>
<rect x="101.83" y="702.07" width="3.2" height="3.2" fill="#5aa8f8"/>
<rect x="103.87" y="701.32" width="3.2" height="3.2" fill="#5aa8f8"/>
<rect x="103.87" y="702.32" width="3.2" height="3.2" fill="#5aa8f8"/>
<rect x="105.9" y="701.4" width="3.2" height="3.2" fill="#5aa8f8"/>
<rect x="105.9" y="702.4" width="3.2" height="3.2" fill="#5aa8f8"/>
<rect x="107.93" y="701.32" width="3.2" height="3.2" fill="#5aa8f8"/>
<rect x="107.93" y="702.32" width="3.2" height="3.2" fill="#5aa8f8"/>
<rect x="109.97" y="701.07" width="3.2" height="3.2" fill="#5aa8f8"/>
<rect x="109.97" y="702.07" width="3.2" height="3.2" fill="#5aa8f8"/>
<rect x="112" y="700.65" width="3.2" height="3.2" fill="#5aa8f8"/>
<rect x="112" y="701.65" width="3.2" height="3.2" fill="#5aa8f8"/>
<rect x="114.03" y="700.07" width="3.2" height="3.2" fill="#5aa8f8"/>
<rect x="114.03" y="701.07" width="3.2" height="3.2" fill="#5aa8f8"/>
<rect x="116.07" y="699.32" width="3.2" height="3.2" fill="#5aa8f8"/>
<rect x="116.07" y="700.32" width="3.2" height="3.2" fill="#5aa8f8"/>
<rect x="118.1" y="698.4" width="3.2" height="3.2" fill="#5aa8f8"/>
<rect x="118.1" y="699.4" width="3.2" height="3.2" fill="#5aa8f8"/>
<rect x="93.7" y="706" width="3.2" height="3.2" fill="#5aa8f8"/>
<rect x="93.7" y="707.4" width="3.2" height="3.2" fill="#5aa8f8"/>
<rect x="95.73" y="706.73" width="3.2" height="3.2" fill="#5aa8f8"/>
<rect x="95.73" y="708.13" width="3.2" height="3.2" fill="#5aa8f8"/>
<rect x="97.77" y="707.33" width="3.2" height="3.2" fill="#5aa8f8"/>
<rect x="97.77" y="708.73" width="3.2" height="3.2" fill="#5aa8f8"/>
<rect x="99.8" y="707.8" width="3.2" height="3.2" fill="#5aa8f8"/>
<rect x="99.8" y="709.2" width="3.2" height="3.2" fill="#5aa8f8"/>
<rect x="101.83" y="708.13" width="3.2" height="3.2" fill="#5aa8f8"/>
<rect x="101.83" y="709.53" width="3.2" height="3.2" fill="#5aa8f8"/>
<rect x="103.87" y="708.33" width="3.2" height="3.2" fill="#5aa8f8"/>
<rect x="103.87" y="709.73" width="3.2" height="3.2" fill="#5aa8f8"/>
<rect x="105.9" y="708.4" width="3.2" height="3.2" fill="#5aa8f8"/>
<rect x="105.9" y="709.8" width="3.2" height="3.2" fill="#5aa8f8"/>
<rect x="107.93" y="708.33" width="3.2" height="3.2" fill="#5aa8f8"/>
<rect x="107.93" y="709.73" width="3.2" height="3.2" fill="#5aa8f8"/>
<rect x="109.97" y="708.13" width="3.2" height="3.2" fill="#5aa8f8"/>
<rect x="109.97" y="709.53" width="3.2" height="3.2" fill="#5aa8f8"/>
<rect x="112" y="707.8" width="3.2" height="3.2" fill="#5aa8f8"/>
<rect x="112" y="709.2" width="3.2" height="3.2" fill="#5aa8f8"/>
<rect x="114.03" y="707.33" width="3.2" height="3.2" fill="#5aa8f8"/>
<rect x="114.03" y="708.73" width="3.2" height="3.2" fill="#5aa8f8"/>
<rect x="116.07" y="706.73" width="3.2" height="3.2" fill="#5aa8f8"/>
<rect x="116.07" y="708.13" width="3.2" height="3.2" fill="#5aa8f8"/>
<rect x="118.1" y="706" width="3.2" height="3.2" fill="#5aa8f8"/>
<rect x="118.1" y="707.4" width="3.2" height="3.2" fill="#5aa8f8"/>
<rect x="94.3" y="713.2" width="3.2" height="3.2" fill="#5aa8f8"/>
<rect x="94.3" y="714" width="3.2" height="3.2" fill="#5aa8f8"/>
<rect x="96.23" y="714.42" width="3.2" height="3.2" fill="#5aa8f8"/>
<rect x="96.23" y="715.22" width="3.2" height="3.2" fill="#5aa8f8"/>
<rect x="98.17" y="715.42" width="3.2" height="3.2" fill="#5aa8f8"/>
<rect x="98.17" y="716.22" width="3.2" height="3.2" fill="#5aa8f8"/>
<rect x="100.1" y="716.2" width="3.2" height="3.2" fill="#5aa8f8"/>
<rect x="100.1" y="717" width="3.2" height="3.2" fill="#5aa8f8"/>
<rect x="102.03" y="716.76" width="3.2" height="3.2" fill="#5aa8f8"/>
<rect x="102.03" y="717.56" width="3.2" height="3.2" fill="#5aa8f8"/>
<rect x="103.97" y="717.09" width="3.2" height="3.2" fill="#5aa8f8"/>
<rect x="103.97" y="717.89" width="3.2" height="3.2" fill="#5aa8f8"/>
<rect x="105.9" y="717.2" width="3.2" height="3.2" fill="#5aa8f8"/>
<rect x="105.9" y="718" width="3.2" height="3.2" fill="#5aa8f8"/>
<rect x="107.83" y="717.09" width="3.2" height="3.2" fill="#5aa8f8"/>
<rect x="107.83" y="717.89" width="3.2" height="3.2" fill="#5aa8f8"/>
<rect x="109.77" y="716.76" width="3.2" height="3.2" fill="#5aa8f8"/>
<rect x="109.77" y="717.56" width="3.2" height="3.2" fill="#5aa8f8"/>
<rect x="111.7" y="716.2" width="3.2" height="3.2" fill="#5aa8f8"/>
<rect x="111.7" y="717" width="3.2" height="3.2" fill="#5aa8f8"/>
<rect x="113.63" y="715.42" width="3.2" height="3.2" fill="#5aa8f8"/>
<rect x="113.63" y="716.22" width="3.2" height="3.2" fill="#5aa8f8"/>
<rect x="115.57" y="714.42" width="3.2" height="3.2" fill="#5aa8f8"/>
<rect x="115.57" y="715.22" width="3.2" height="3.2" fill="#5aa8f8"/>
<rect x="117.5" y="713.2" width="3.2" height="3.2" fill="#5aa8f8"/>
<rect x="117.5" y="714" width="3.2" height="3.2" fill="#5aa8f8"/>
<line x1="95" y1="706.5" x2="121" y2="706.5" stroke="#141414" stroke-width="1.2"/>
<line x1="107.5" y1="698.4" x2="107.5" y2="715" stroke="#262626" stroke-width="1.2"/>
<line x1="101.4" y1="698.5" x2="114.4" y2="698.5" stroke="#262626" stroke-width="1.2"/>
<line x1="101.4" y1="715.5" x2="114.4" y2="715.5" stroke="#262626" stroke-width="1.2"/>
<path d="M136.4 675.83L138 678.83L134.81 678.83Z" fill="#1b8a9e"/>
<path d="M141.5 673.23L143.09 676.23L139.91 676.23Z" fill="#1b8a9e"/>
<path d="M146 674.53L147.59 677.53L144.41 677.53Z" fill="#1b8a9e"/>
<path d="M150.4 674.53L152 677.53L148.81 677.53Z" fill="#1b8a9e"/>
<path d="M154.6 673.23L156.19 676.23L153 676.23Z" fill="#1b8a9e"/>
<path d="M159.4 675.83L161 678.83L157.81 678.83Z" fill="#1b8a9e"/>
<path d="M139.6 677.03L141.19 680.03L138 680.03Z" fill="#1b8a9e"/>
<path d="M143.1 679.33L144.69 682.33L141.5 682.33Z" fill="#1b8a9e"/>
<path d="M146.3 679.33L147.9 682.33L144.71 682.33Z" fill="#1b8a9e"/>
<path d="M149.8 679.33L151.4 682.33L148.21 682.33Z" fill="#1b8a9e"/>
<path d="M153 678.03L154.59 681.03L151.41 681.03Z" fill="#1b8a9e"/>
<path d="M156.2 676.73L157.79 679.73L154.6 679.73Z" fill="#1b8a9e"/>
<path d="M136.4 692.13L138 695.13L134.81 695.13Z" fill="#1b8a9e"/>
<path d="M139.8 692.13L141.4 695.13L138.21 695.13Z" fill="#1b8a9e"/>
<path d="M143.1 692.13L144.69 695.13L141.5 695.13Z" fill="#1b8a9e"/>
<path d="M146.5 694.13L148.09 697.13L144.91 697.13Z" fill="#1b8a9e"/>
<path d="M150 694.13L151.59 697.13L148.41 697.13Z" fill="#1b8a9e"/>
<path d="M153 692.13L154.59 695.13L151.41 695.13Z" fill="#1b8a9e"/>
<path d="M156.2 692.13L157.79 695.13L154.6 695.13Z" fill="#1b8a9e"/>
<path d="M159.4 692.13L161 695.13L157.81 695.13Z" fill="#1b8a9e"/>
<path d="M135.7 696.82L137.41 700.03L134 700.03Z" fill="#1b8a9e"/>
<path d="M135.7 697.72L137.41 700.93L134 700.93Z" fill="#1b8a9e"/>
<path d="M137.92 697.54L139.62 700.75L136.21 700.75Z" fill="#1b8a9e"/>
<path d="M137.92 698.44L139.62 701.65L136.21 701.65Z" fill="#1b8a9e"/>
<path d="M140.14 698.13L141.84 701.34L138.43 701.34Z" fill="#1b8a9e"/>
<path d="M140.14 699.03L141.84 702.24L138.43 702.24Z" fill="#1b8a9e"/>
<path d="M142.35 698.56L144.06 701.77L140.65 701.77Z" fill="#1b8a9e"/>
<path d="M142.35 699.46L144.06 702.67L140.65 702.67Z" fill="#1b8a9e"/>
<path d="M144.57 698.85L146.28 702.06L142.87 702.06Z" fill="#1b8a9e"/>
<path d="M144.57 699.75L146.28 702.96L142.87 702.96Z" fill="#1b8a9e"/>
<path d="M146.79 699L148.5 702.21L145.09 702.21Z" fill="#1b8a9e"/>
<path d="M146.79 699.9L148.5 703.11L145.09 703.11Z" fill="#1b8a9e"/>
<path d="M149.01 699L150.71 702.21L147.3 702.21Z" fill="#1b8a9e"/>
<path d="M149.01 699.9L150.71 703.11L147.3 703.11Z" fill="#1b8a9e"/>
<path d="M151.23 698.85L152.93 702.06L149.52 702.06Z" fill="#1b8a9e"/>
<path d="M151.23 699.75L152.93 702.96L149.52 702.96Z" fill="#1b8a9e"/>
<path d="M153.45 698.56L155.15 701.77L151.74 701.77Z" fill="#1b8a9e"/>
<path d="M153.45 699.46L155.15 702.67L151.74 702.67Z" fill="#1b8a9e"/>
<path d="M155.66 698.13L157.37 701.34L153.96 701.34Z" fill="#1b8a9e"/>
<path d="M155.66 699.03L157.37 702.24L153.96 702.24Z" fill="#1b8a9e"/>
<path d="M157.88 697.54L159.59 700.75L156.18 700.75Z" fill="#1b8a9e"/>
<path d="M157.88 698.44L159.59 701.65L156.18 701.65Z" fill="#1b8a9e"/>
<path d="M160.1 696.82L161.81 700.03L158.39 700.03Z" fill="#1b8a9e"/>
<path d="M160.1 697.72L161.81 700.93L158.39 700.93Z" fill="#1b8a9e"/>
<path d="M135.7 699.88L137.35 702.98L134.05 702.98Z" fill="#1b8a9e"/>
<path d="M138.14 700.74L139.79 703.84L136.49 703.84Z" fill="#1b8a9e"/>
<path d="M140.58 701.41L142.23 704.52L138.93 704.52Z" fill="#1b8a9e"/>
<path d="M143.02 701.89L144.67 705L141.37 705Z" fill="#1b8a9e"/>
<path d="M145.46 702.18L147.11 705.28L143.81 705.28Z" fill="#1b8a9e"/>
<path d="M147.9 702.27L149.55 705.38L146.25 705.38Z" fill="#1b8a9e"/>
<path d="M150.34 702.18L151.99 705.28L148.69 705.28Z" fill="#1b8a9e"/>
<path d="M152.78 701.89L154.43 705L151.13 705Z" fill="#1b8a9e"/>
<path d="M155.22 701.41L156.87 704.52L153.57 704.52Z" fill="#1b8a9e"/>
<path d="M157.66 700.74L159.31 703.84L156.01 703.84Z" fill="#1b8a9e"/>
<path d="M160.1 699.88L161.75 702.98L158.45 702.98Z" fill="#1b8a9e"/>
<path d="M136.1 706.83L137.69 709.83L134.5 709.83Z" fill="#1b8a9e"/>
<path d="M139.47 708.84L141.07 711.84L137.88 711.84Z" fill="#1b8a9e"/>
<path d="M142.84 710.18L144.44 713.18L141.25 713.18Z" fill="#1b8a9e"/>
<path d="M146.21 710.85L147.81 713.85L144.62 713.85Z" fill="#1b8a9e"/>
<path d="M149.59 710.85L151.18 713.85L147.99 713.85Z" fill="#1b8a9e"/>
<path d="M152.96 710.18L154.55 713.18L151.36 713.18Z" fill="#1b8a9e"/>
<path d="M156.33 708.84L157.92 711.84L154.73 711.84Z" fill="#1b8a9e"/>
<path d="M159.7 706.83L161.3 709.83L158.11 709.83Z" fill="#1b8a9e"/>
<line x1="135.1" y1="697.5" x2="161.3" y2="697.5" stroke="#141414" stroke-width="1.2"/>
<line x1="148.5" y1="687.4" x2="148.5" y2="707.2" stroke="#262626" stroke-width="1.2"/>
<line x1="141.6" y1="687.5" x2="154.6" y2="687.5" stroke="#262626" stroke-width="1.2"/>
<line x1="141.6" y1="707.5" x2="154.6" y2="707.5" stroke="#262626" stroke-width="1.2"/>
<line x1="67.2" y1="680.5" x2="107.7" y2="680.5" stroke="#a8a8a8" stroke-width="1.6"/>
<polygon points="82.25,671.8 82.92,673.47 84.72,673.6 83.34,674.75 83.78,676.5 82.25,675.54 80.72,676.5 81.16,674.75 79.78,673.6 81.58,673.47" fill="#141414"/>
<polygon points="87.45,671.8 88.12,673.47 89.92,673.6 88.54,674.75 88.98,676.5 87.45,675.54 85.92,676.5 86.36,674.75 84.98,673.6 86.78,673.47" fill="#141414"/>
<polygon points="92.65,671.8 93.32,673.47 95.12,673.6 93.74,674.75 94.18,676.5 92.65,675.54 91.12,676.5 91.56,674.75 90.18,673.6 91.98,673.47" fill="#141414"/>
<line x1="67.2" y1="656.5" x2="146.9" y2="656.5" stroke="#555" stroke-width="1.2"/>
<polygon points="101.85,646.6 102.52,648.27 104.32,648.4 102.94,649.55 103.38,651.3 101.85,650.34 100.32,651.3 100.76,649.55 99.38,648.4 101.18,648.27" fill="#141414"/>
<polygon points="107.05,646.6 107.72,648.27 109.52,648.4 108.14,649.55 108.58,651.3 107.05,650.34 105.52,651.3 105.96,649.55 104.58,648.4 106.38,648.27" fill="#141414"/>
<polygon points="112.25,646.6 112.92,648.27 114.72,648.4 113.34,649.55 113.78,651.3 112.25,650.34 110.72,651.3 111.16,649.55 109.78,648.4 111.58,648.27" fill="#141414"/>
<text x="72.8" y="826" font-size="11.1" text-anchor="end" fill="#141414" transform="rotate(-45 72.8 826)">Scr</text>
<text x="113.2" y="826" font-size="11.1" text-anchor="end" fill="#141414" transform="rotate(-45 113.2 826)">shHULC-1</text>
<text x="153.4" y="826" font-size="11.1" text-anchor="end" fill="#141414" transform="rotate(-45 153.4 826)">shHULC-2</text>
<line x1="227.5" y1="660.4" x2="227.5" y2="813.1" stroke="#444" stroke-width="1.2"/>
<line x1="225.6" y1="812.5" x2="227.6" y2="812.5" stroke="#444" stroke-width="1.2"/>
<text x="221.3" y="817.04" font-size="10.8" text-anchor="end" fill="#141414">0.0</text>
<line x1="225.6" y1="762.5" x2="227.6" y2="762.5" stroke="#444" stroke-width="1.2"/>
<text x="221.3" y="766.54" font-size="10.8" text-anchor="end" fill="#141414">0.5</text>
<line x1="225.6" y1="711.5" x2="227.6" y2="711.5" stroke="#444" stroke-width="1.2"/>
<text x="221.3" y="716.04" font-size="10.8" text-anchor="end" fill="#141414">1.0</text>
<line x1="225.6" y1="661.5" x2="227.6" y2="661.5" stroke="#444" stroke-width="1.2"/>
<text x="221.3" y="665.54" font-size="10.8" text-anchor="end" fill="#141414">1.5</text>
<line x1="227" y1="812.5" x2="331.8" y2="812.5" stroke="#141414" stroke-width="1.2"/>
<line x1="257.5" y1="812.5" x2="257.5" y2="815.5" stroke="#141414" stroke-width="1.2"/>
<line x1="302.5" y1="812.5" x2="302.5" y2="815.5" stroke="#141414" stroke-width="1.2"/>
<text x="198.5" y="738.1" font-size="11.2" text-anchor="middle" fill="#141414" transform="rotate(-90 198.5 738.1)">Relative OCR</text>
<circle cx="253.3" cy="693.1" r="1.6" fill="#a3a3a3"/>
<circle cx="261.6" cy="693.1" r="1.6" fill="#a3a3a3"/>
<circle cx="247.1" cy="698.5" r="1.6" fill="#a3a3a3"/>
<circle cx="255.4" cy="697.9" r="1.6" fill="#a3a3a3"/>
<circle cx="259.5" cy="697.9" r="1.6" fill="#a3a3a3"/>
<circle cx="267.8" cy="698.4" r="1.6" fill="#a3a3a3"/>
<circle cx="250" cy="700.3" r="1.6" fill="#a3a3a3"/>
<circle cx="264.9" cy="699.4" r="1.6" fill="#a3a3a3"/>
<circle cx="262.5" cy="700.6" r="1.6" fill="#a3a3a3"/>
<circle cx="248.8" cy="703.2" r="1.6" fill="#a3a3a3"/>
<circle cx="265.9" cy="705.2" r="1.6" fill="#a3a3a3"/>
<circle cx="253.3" cy="706.4" r="1.6" fill="#a3a3a3"/>
<circle cx="261.6" cy="707.6" r="1.6" fill="#a3a3a3"/>
<circle cx="259.9" cy="708.7" r="1.6" fill="#a3a3a3"/>
<circle cx="255.2" cy="709.6" r="1.6" fill="#a3a3a3"/>
<circle cx="246" cy="710.6" r="1.6" fill="#a3a3a3"/>
<circle cx="268.5" cy="710.6" r="1.6" fill="#a3a3a3"/>
<circle cx="244.2" cy="721.3" r="1.6" fill="#a3a3a3"/>
<circle cx="247.9" cy="723" r="1.6" fill="#a3a3a3"/>
<circle cx="251.7" cy="724.2" r="1.6" fill="#a3a3a3"/>
<circle cx="255.4" cy="725.1" r="1.6" fill="#a3a3a3"/>
<circle cx="259.3" cy="724.8" r="1.6" fill="#a3a3a3"/>
<circle cx="263.1" cy="723.6" r="1.6" fill="#a3a3a3"/>
<circle cx="266.7" cy="722.5" r="1.6" fill="#a3a3a3"/>
<circle cx="270.7" cy="720.7" r="1.6" fill="#a3a3a3"/>
<circle cx="245.5" cy="712.87" r="1.6" fill="#a3a3a3"/>
<circle cx="247.5" cy="713.4" r="1.6" fill="#a3a3a3"/>
<circle cx="249.5" cy="713.83" r="1.6" fill="#a3a3a3"/>
<circle cx="253.5" cy="714.41" r="1.6" fill="#a3a3a3"/>
<circle cx="255.5" cy="714.55" r="1.6" fill="#a3a3a3"/>
<circle cx="257.5" cy="714.6" r="1.6" fill="#a3a3a3"/>
<circle cx="259.5" cy="714.55" r="1.6" fill="#a3a3a3"/>
<circle cx="261.5" cy="714.41" r="1.6" fill="#a3a3a3"/>
<circle cx="265.5" cy="713.83" r="1.6" fill="#a3a3a3"/>
<circle cx="267.5" cy="713.4" r="1.6" fill="#a3a3a3"/>
<circle cx="269.5" cy="712.87" r="1.6" fill="#a3a3a3"/>
<circle cx="246.5" cy="716.55" r="1.6" fill="#a3a3a3"/>
<circle cx="249" cy="717.13" r="1.6" fill="#a3a3a3"/>
<circle cx="251.5" cy="717.57" r="1.6" fill="#a3a3a3"/>
<circle cx="254" cy="717.85" r="1.6" fill="#a3a3a3"/>
<circle cx="256.5" cy="717.99" r="1.6" fill="#a3a3a3"/>
<circle cx="259" cy="717.97" r="1.6" fill="#a3a3a3"/>
<circle cx="261.5" cy="717.81" r="1.6" fill="#a3a3a3"/>
<circle cx="264" cy="717.49" r="1.6" fill="#a3a3a3"/>
<circle cx="266.5" cy="717.03" r="1.6" fill="#a3a3a3"/>
<circle cx="269" cy="716.41" r="1.6" fill="#a3a3a3"/>
<line x1="243" y1="711.5" x2="271.9" y2="711.5" stroke="#141414" stroke-width="1.3"/>
<line x1="257.5" y1="702.2" x2="257.5" y2="720.3" stroke="#262626" stroke-width="1"/>
<line x1="250.3" y1="702.5" x2="264.3" y2="702.5" stroke="#262626" stroke-width="1"/>
<line x1="250.3" y1="720.5" x2="264.3" y2="720.5" stroke="#262626" stroke-width="1"/>
<rect x="286" y="738.5" width="3.4" height="3.4" fill="#f03535"/>
<rect x="286" y="740.1" width="3.4" height="3.4" fill="#f03535"/>
<rect x="287.59" y="739.09" width="3.4" height="3.4" fill="#f03535"/>
<rect x="287.59" y="740.69" width="3.4" height="3.4" fill="#f03535"/>
<rect x="289.18" y="739.61" width="3.4" height="3.4" fill="#f03535"/>
<rect x="289.18" y="741.21" width="3.4" height="3.4" fill="#f03535"/>
<rect x="290.77" y="740.06" width="3.4" height="3.4" fill="#f03535"/>
<rect x="290.77" y="741.66" width="3.4" height="3.4" fill="#f03535"/>
<rect x="292.36" y="740.44" width="3.4" height="3.4" fill="#f03535"/>
<rect x="292.36" y="742.04" width="3.4" height="3.4" fill="#f03535"/>
<rect x="293.94" y="740.75" width="3.4" height="3.4" fill="#f03535"/>
<rect x="293.94" y="742.35" width="3.4" height="3.4" fill="#f03535"/>
<rect x="295.53" y="740.99" width="3.4" height="3.4" fill="#f03535"/>
<rect x="295.53" y="742.59" width="3.4" height="3.4" fill="#f03535"/>
<rect x="297.12" y="741.16" width="3.4" height="3.4" fill="#f03535"/>
<rect x="297.12" y="742.76" width="3.4" height="3.4" fill="#f03535"/>
<rect x="298.71" y="741.27" width="3.4" height="3.4" fill="#f03535"/>
<rect x="298.71" y="742.87" width="3.4" height="3.4" fill="#f03535"/>
<rect x="300.3" y="741.3" width="3.4" height="3.4" fill="#f03535"/>
<rect x="300.3" y="742.9" width="3.4" height="3.4" fill="#f03535"/>
<rect x="301.89" y="741.27" width="3.4" height="3.4" fill="#f03535"/>
<rect x="301.89" y="742.87" width="3.4" height="3.4" fill="#f03535"/>
<rect x="303.48" y="741.16" width="3.4" height="3.4" fill="#f03535"/>
<rect x="303.48" y="742.76" width="3.4" height="3.4" fill="#f03535"/>
<rect x="305.07" y="740.99" width="3.4" height="3.4" fill="#f03535"/>
<rect x="305.07" y="742.59" width="3.4" height="3.4" fill="#f03535"/>
<rect x="306.66" y="740.75" width="3.4" height="3.4" fill="#f03535"/>
<rect x="306.66" y="742.35" width="3.4" height="3.4" fill="#f03535"/>
<rect x="308.24" y="740.44" width="3.4" height="3.4" fill="#f03535"/>
<rect x="308.24" y="742.04" width="3.4" height="3.4" fill="#f03535"/>
<rect x="309.83" y="740.06" width="3.4" height="3.4" fill="#f03535"/>
<rect x="309.83" y="741.66" width="3.4" height="3.4" fill="#f03535"/>
<rect x="311.42" y="739.61" width="3.4" height="3.4" fill="#f03535"/>
<rect x="311.42" y="741.21" width="3.4" height="3.4" fill="#f03535"/>
<rect x="313.01" y="739.09" width="3.4" height="3.4" fill="#f03535"/>
<rect x="313.01" y="740.69" width="3.4" height="3.4" fill="#f03535"/>
<rect x="314.6" y="738.5" width="3.4" height="3.4" fill="#f03535"/>
<rect x="314.6" y="740.1" width="3.4" height="3.4" fill="#f03535"/>
<rect x="297.8" y="737.7" width="3.4" height="3.4" fill="#f03535"/>
<rect x="302.8" y="737.3" width="3.4" height="3.4" fill="#f03535"/>
<rect x="298.3" y="743.8" width="3.4" height="3.4" fill="#f03535"/>
<rect x="302.3" y="743.8" width="3.4" height="3.4" fill="#f03535"/>
<rect x="300.3" y="745.3" width="3.4" height="3.4" fill="#f03535"/>
<rect x="287.9" y="746.7" width="3" height="3" fill="#f03535"/>
<rect x="287.9" y="747.3" width="3" height="3" fill="#f03535"/>
<rect x="289.48" y="747.26" width="3" height="3" fill="#f03535"/>
<rect x="289.48" y="747.86" width="3" height="3" fill="#f03535"/>
<rect x="291.05" y="747.75" width="3" height="3" fill="#f03535"/>
<rect x="291.05" y="748.35" width="3" height="3" fill="#f03535"/>
<rect x="292.62" y="748.16" width="3" height="3" fill="#f03535"/>
<rect x="292.62" y="748.76" width="3" height="3" fill="#f03535"/>
<rect x="294.2" y="748.5" width="3" height="3" fill="#f03535"/>
<rect x="294.2" y="749.1" width="3" height="3" fill="#f03535"/>
<rect x="295.77" y="748.76" width="3" height="3" fill="#f03535"/>
<rect x="295.77" y="749.36" width="3" height="3" fill="#f03535"/>
<rect x="297.35" y="748.95" width="3" height="3" fill="#f03535"/>
<rect x="297.35" y="749.55" width="3" height="3" fill="#f03535"/>
<rect x="298.93" y="749.06" width="3" height="3" fill="#f03535"/>
<rect x="298.93" y="749.66" width="3" height="3" fill="#f03535"/>
<rect x="300.5" y="749.1" width="3" height="3" fill="#f03535"/>
<rect x="300.5" y="749.7" width="3" height="3" fill="#f03535"/>
<rect x="302.07" y="749.06" width="3" height="3" fill="#f03535"/>
<rect x="302.07" y="749.66" width="3" height="3" fill="#f03535"/>
<rect x="303.65" y="748.95" width="3" height="3" fill="#f03535"/>
<rect x="303.65" y="749.55" width="3" height="3" fill="#f03535"/>
<rect x="305.23" y="748.76" width="3" height="3" fill="#f03535"/>
<rect x="305.23" y="749.36" width="3" height="3" fill="#f03535"/>
<rect x="306.8" y="748.5" width="3" height="3" fill="#f03535"/>
<rect x="306.8" y="749.1" width="3" height="3" fill="#f03535"/>
<rect x="308.38" y="748.16" width="3" height="3" fill="#f03535"/>
<rect x="308.38" y="748.76" width="3" height="3" fill="#f03535"/>
<rect x="309.95" y="747.75" width="3" height="3" fill="#f03535"/>
<rect x="309.95" y="748.35" width="3" height="3" fill="#f03535"/>
<rect x="311.52" y="747.26" width="3" height="3" fill="#f03535"/>
<rect x="311.52" y="747.86" width="3" height="3" fill="#f03535"/>
<rect x="313.1" y="746.7" width="3" height="3" fill="#f03535"/>
<rect x="313.1" y="747.3" width="3" height="3" fill="#f03535"/>
<rect x="287.7" y="760.3" width="3.4" height="3.4" fill="#f03535"/>
<rect x="287.7" y="761.3" width="3.4" height="3.4" fill="#f03535"/>
<rect x="289.28" y="760.86" width="3.4" height="3.4" fill="#f03535"/>
<rect x="289.28" y="761.86" width="3.4" height="3.4" fill="#f03535"/>
<rect x="290.85" y="761.35" width="3.4" height="3.4" fill="#f03535"/>
<rect x="290.85" y="762.35" width="3.4" height="3.4" fill="#f03535"/>
<rect x="292.43" y="761.76" width="3.4" height="3.4" fill="#f03535"/>
<rect x="292.43" y="762.76" width="3.4" height="3.4" fill="#f03535"/>
<rect x="294" y="762.1" width="3.4" height="3.4" fill="#f03535"/>
<rect x="294" y="763.1" width="3.4" height="3.4" fill="#f03535"/>
<rect x="295.57" y="762.36" width="3.4" height="3.4" fill="#f03535"/>
<rect x="295.57" y="763.36" width="3.4" height="3.4" fill="#f03535"/>
<rect x="297.15" y="762.55" width="3.4" height="3.4" fill="#f03535"/>
<rect x="297.15" y="763.55" width="3.4" height="3.4" fill="#f03535"/>
<rect x="298.73" y="762.66" width="3.4" height="3.4" fill="#f03535"/>
<rect x="298.73" y="763.66" width="3.4" height="3.4" fill="#f03535"/>
<rect x="300.3" y="762.7" width="3.4" height="3.4" fill="#f03535"/>
<rect x="300.3" y="763.7" width="3.4" height="3.4" fill="#f03535"/>
<rect x="301.88" y="762.66" width="3.4" height="3.4" fill="#f03535"/>
<rect x="301.88" y="763.66" width="3.4" height="3.4" fill="#f03535"/>
<rect x="303.45" y="762.55" width="3.4" height="3.4" fill="#f03535"/>
<rect x="303.45" y="763.55" width="3.4" height="3.4" fill="#f03535"/>
<rect x="305.03" y="762.36" width="3.4" height="3.4" fill="#f03535"/>
<rect x="305.03" y="763.36" width="3.4" height="3.4" fill="#f03535"/>
<rect x="306.6" y="762.1" width="3.4" height="3.4" fill="#f03535"/>
<rect x="306.6" y="763.1" width="3.4" height="3.4" fill="#f03535"/>
<rect x="308.18" y="761.76" width="3.4" height="3.4" fill="#f03535"/>
<rect x="308.18" y="762.76" width="3.4" height="3.4" fill="#f03535"/>
<rect x="309.75" y="761.35" width="3.4" height="3.4" fill="#f03535"/>
<rect x="309.75" y="762.35" width="3.4" height="3.4" fill="#f03535"/>
<rect x="311.32" y="760.86" width="3.4" height="3.4" fill="#f03535"/>
<rect x="311.32" y="761.86" width="3.4" height="3.4" fill="#f03535"/>
<rect x="312.9" y="760.3" width="3.4" height="3.4" fill="#f03535"/>
<rect x="312.9" y="761.3" width="3.4" height="3.4" fill="#f03535"/>
<line x1="287.3" y1="749.5" x2="316.5" y2="749.5" stroke="#141414" stroke-width="1.2"/>
<line x1="302.5" y1="741.3" x2="302.5" y2="758.5" stroke="#262626" stroke-width="1"/>
<line x1="294.7" y1="741.5" x2="309.3" y2="741.5" stroke="#262626" stroke-width="1"/>
<line x1="294.7" y1="758.5" x2="309.3" y2="758.5" stroke="#262626" stroke-width="1"/>
<line x1="256.8" y1="679.5" x2="300.8" y2="679.5" stroke="#333" stroke-width="1.2"/>
<polygon points="273.5,670.9 274.17,672.57 275.97,672.7 274.59,673.85 275.03,675.6 273.5,674.64 271.97,675.6 272.41,673.85 271.03,672.7 272.83,672.57" fill="#141414"/>
<polygon points="278.8,670.9 279.47,672.57 281.27,672.7 279.89,673.85 280.33,675.6 278.8,674.64 277.27,675.6 277.71,673.85 276.33,672.7 278.13,672.57" fill="#141414"/>
<polygon points="284.1,670.9 284.77,672.57 286.57,672.7 285.19,673.85 285.63,675.6 284.1,674.64 282.57,675.6 283.01,673.85 281.63,672.7 283.43,672.57" fill="#141414"/>
<text x="262.6" y="826" font-size="11.1" text-anchor="end" fill="#141414" transform="rotate(-45 262.6 826)">Vector</text>
<text x="307.3" y="826" font-size="11.1" text-anchor="end" fill="#141414" transform="rotate(-45 307.3 826)">HULC</text>
<rect x="410.6" y="752.8" width="24.6" height="59.7" fill="#d3d3d3"/>
<rect x="448" y="725.1" width="26" height="87.4" fill="#c6dcf6"/>
<rect x="487.2" y="708" width="25.1" height="104.5" fill="#8fbcf5"/>
<line x1="397.5" y1="659.8" x2="397.5" y2="813.1" stroke="#141414" stroke-width="1.2"/>
<line x1="394.6" y1="812.5" x2="397.1" y2="812.5" stroke="#141414" stroke-width="1.2"/>
<text x="390.8" y="817.12" font-size="11" text-anchor="end" fill="#141414">0.0</text>
<line x1="394.6" y1="774.5" x2="397.1" y2="774.5" stroke="#141414" stroke-width="1.2"/>
<text x="390.8" y="779.1" font-size="11" text-anchor="end" fill="#141414">0.5</text>
<line x1="394.6" y1="736.5" x2="397.1" y2="736.5" stroke="#141414" stroke-width="1.2"/>
<text x="390.8" y="741.07" font-size="11" text-anchor="end" fill="#141414">1.0</text>
<line x1="394.6" y1="698.5" x2="397.1" y2="698.5" stroke="#141414" stroke-width="1.2"/>
<text x="390.8" y="703.04" font-size="11" text-anchor="end" fill="#141414">1.5</text>
<line x1="394.6" y1="660.5" x2="397.1" y2="660.5" stroke="#141414" stroke-width="1.2"/>
<text x="390.8" y="665.02" font-size="11" text-anchor="end" fill="#141414">2.0</text>
<line x1="396.5" y1="812.5" x2="524.8" y2="812.5" stroke="#141414" stroke-width="1.2"/>
<line x1="422.5" y1="812.5" x2="422.5" y2="815.5" stroke="#141414" stroke-width="1.2"/>
<line x1="461.5" y1="812.5" x2="461.5" y2="815.5" stroke="#141414" stroke-width="1.2"/>
<line x1="499.5" y1="812.5" x2="499.5" y2="815.5" stroke="#141414" stroke-width="1.2"/>
<text x="367.2" y="737.5" font-size="11.3" text-anchor="middle" fill="#141414" transform="rotate(-90 367.2 737.5)">Acetyl-CoA (µM)</text>
<line x1="422.5" y1="742.5" x2="422.5" y2="762.4" stroke="#262626" stroke-width="1"/>
<line x1="416.3" y1="742.5" x2="429.1" y2="742.5" stroke="#262626" stroke-width="1"/>
<line x1="416.3" y1="762.5" x2="429.1" y2="762.5" stroke="#262626" stroke-width="1"/>
<circle cx="418.2" cy="747.3" r="1.7" fill="#141414"/>
<circle cx="422.7" cy="748.1" r="1.7" fill="#141414"/>
<circle cx="427.8" cy="746.8" r="1.7" fill="#141414"/>
<circle cx="422.7" cy="767.2" r="1.7" fill="#141414"/>
<line x1="461.5" y1="715.2" x2="461.5" y2="734.5" stroke="#262626" stroke-width="1"/>
<line x1="455.1" y1="715.5" x2="467.3" y2="715.5" stroke="#262626" stroke-width="1"/>
<line x1="455.1" y1="734.5" x2="467.3" y2="734.5" stroke="#262626" stroke-width="1"/>
<rect x="459.6" y="711" width="3.2" height="3.2" fill="#141414"/>
<rect x="459.6" y="720.7" width="3.2" height="3.2" fill="#141414"/>
<rect x="457.2" y="731.9" width="3.2" height="3.2" fill="#141414"/>
<rect x="462" y="730" width="3.2" height="3.2" fill="#141414"/>
<line x1="499.5" y1="692.2" x2="499.5" y2="723.2" stroke="#262626" stroke-width="1"/>
<line x1="493.1" y1="692.5" x2="506.3" y2="692.5" stroke="#262626" stroke-width="1"/>
<line x1="493.1" y1="723.5" x2="506.3" y2="723.5" stroke="#262626" stroke-width="1"/>
<path d="M499.7 692.12L501.79 696.05L497.61 696.05Z" fill="#141414"/>
<path d="M499.7 698.92L501.79 702.85L497.61 702.85Z" fill="#141414"/>
<path d="M499.7 706.12L501.79 710.05L497.61 710.05Z" fill="#141414"/>
<path d="M499.7 727.42L501.79 731.35L497.61 731.35Z" fill="#141414"/>
<line x1="421.1" y1="705.5" x2="462" y2="705.5" stroke="#444" stroke-width="1.2"/>
<polygon points="438.85,697.2 439.57,699 441.51,699.13 440.02,700.38 440.5,702.27 438.85,701.23 437.2,702.27 437.68,700.38 436.19,699.13 438.13,699" fill="#141414"/>
<polygon points="444.25,697.2 444.97,699 446.91,699.13 445.42,700.38 445.9,702.27 444.25,701.23 442.6,702.27 443.08,700.38 441.59,699.13 443.53,699" fill="#141414"/>
<line x1="421.4" y1="675.5" x2="498.8" y2="675.5" stroke="#555" stroke-width="1.2"/>
<polygon points="457.4,664.4 458.12,666.2 460.06,666.33 458.57,667.58 459.05,669.47 457.4,668.43 455.75,669.47 456.23,667.58 454.74,666.33 456.68,666.2" fill="#141414"/>
<polygon points="462.8,664.4 463.52,666.2 465.46,666.33 463.97,667.58 464.45,669.47 462.8,668.43 461.15,669.47 461.63,667.58 460.14,666.33 462.08,666.2" fill="#141414"/>
<text x="427.9" y="826" font-size="11.2" text-anchor="end" fill="#141414" transform="rotate(-45 427.9 826)">Scr</text>
<text x="466.4" y="826" font-size="11.2" text-anchor="end" fill="#141414" transform="rotate(-45 466.4 826)">shHULC-1</text>
<text x="504.6" y="826" font-size="11.2" text-anchor="end" fill="#141414" transform="rotate(-45 504.6 826)">shHULC-2</text>
<rect x="595.1" y="698.5" width="29.9" height="113.8" fill="#d3d3d3"/>
<rect x="640.3" y="734" width="29.4" height="78.3" fill="#f9a0a0"/>
<line x1="580.5" y1="659.2" x2="580.5" y2="812.9" stroke="#444" stroke-width="1.2"/>
<line x1="578.1" y1="812.5" x2="580.1" y2="812.5" stroke="#444" stroke-width="1.2"/>
<text x="574.4" y="816.92" font-size="11" text-anchor="end" fill="#141414">0.0</text>
<line x1="578.1" y1="781.5" x2="580.1" y2="781.5" stroke="#444" stroke-width="1.2"/>
<text x="574.4" y="786.42" font-size="11" text-anchor="end" fill="#141414">0.5</text>
<line x1="578.1" y1="751.5" x2="580.1" y2="751.5" stroke="#444" stroke-width="1.2"/>
<text x="574.4" y="755.92" font-size="11" text-anchor="end" fill="#141414">1.0</text>
<line x1="578.1" y1="720.5" x2="580.1" y2="720.5" stroke="#444" stroke-width="1.2"/>
<text x="574.4" y="725.42" font-size="11" text-anchor="end" fill="#141414">1.5</text>
<line x1="578.1" y1="690.5" x2="580.1" y2="690.5" stroke="#444" stroke-width="1.2"/>
<text x="574.4" y="694.92" font-size="11" text-anchor="end" fill="#141414">2.0</text>
<line x1="578.1" y1="659.5" x2="580.1" y2="659.5" stroke="#444" stroke-width="1.2"/>
<text x="574.4" y="664.42" font-size="11" text-anchor="end" fill="#141414">2.5</text>
<line x1="579.5" y1="812.5" x2="685" y2="812.5" stroke="#141414" stroke-width="1.2"/>
<line x1="609.5" y1="812.3" x2="609.5" y2="815.3" stroke="#141414" stroke-width="1.2"/>
<line x1="654.5" y1="812.3" x2="654.5" y2="815.3" stroke="#141414" stroke-width="1.2"/>
<text x="550.6" y="737.5" font-size="11.3" text-anchor="middle" fill="#141414" transform="rotate(-90 550.6 737.5)">Acetyl-CoA (µM)</text>
<line x1="610.5" y1="686.2" x2="610.5" y2="710.5" stroke="#262626" stroke-width="1"/>
<line x1="602.35" y1="686.5" x2="617.65" y2="686.5" stroke="#262626" stroke-width="1"/>
<line x1="602.35" y1="710.5" x2="617.65" y2="710.5" stroke="#262626" stroke-width="1"/>
<circle cx="610" cy="686.2" r="1.7" fill="#141414"/>
<circle cx="610" cy="691.3" r="1.7" fill="#141414"/>
<circle cx="610" cy="702.3" r="1.7" fill="#141414"/>
<circle cx="610" cy="713.5" r="1.7" fill="#141414"/>
<line x1="654.5" y1="723.3" x2="654.5" y2="744.3" stroke="#262626" stroke-width="1"/>
<line x1="647.4" y1="723.5" x2="662.4" y2="723.5" stroke="#262626" stroke-width="1"/>
<line x1="647.4" y1="744.5" x2="662.4" y2="744.5" stroke="#262626" stroke-width="1"/>
<rect x="653.3" y="719.9" width="3.2" height="3.2" fill="#141414"/>
<rect x="653.3" y="728" width="3.2" height="3.2" fill="#141414"/>
<rect x="653.3" y="735.2" width="3.2" height="3.2" fill="#141414"/>
<rect x="653.3" y="745.3" width="3.2" height="3.2" fill="#141414"/>
<line x1="608.4" y1="675.5" x2="650.5" y2="675.5" stroke="#444" stroke-width="1.2"/>
<polygon points="626.75,665.6 627.47,667.4 629.41,667.53 627.92,668.78 628.4,670.67 626.75,669.63 625.1,670.67 625.58,668.78 624.09,667.53 626.03,667.4" fill="#141414"/>
<polygon points="632.15,665.6 632.87,667.4 634.81,667.53 633.32,668.78 633.8,670.67 632.15,669.63 630.5,670.67 630.98,668.78 629.49,667.53 631.43,667.4" fill="#141414"/>
<text x="614.9" y="825.8" font-size="11.2" text-anchor="end" fill="#141414" transform="rotate(-45 614.9 825.8)">Vector</text>
<text x="660.2" y="825.8" font-size="11.2" text-anchor="end" fill="#141414" transform="rotate(-45 660.2 825.8)">HULC</text>
</svg></body></html>
